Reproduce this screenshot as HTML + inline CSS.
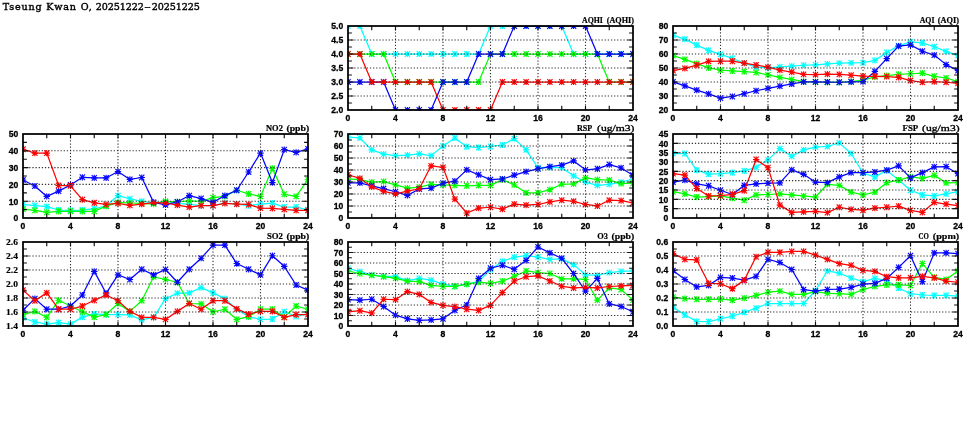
<!DOCTYPE html>
<html><head><meta charset="utf-8"><title>Tseung Kwan O</title><style>
html,body{margin:0;padding:0;background:#fff;}
body{width:975px;height:447px;overflow:hidden;}
svg{display:block;will-change:transform;}
text{fill:#000;}
.ttl{font-family:"DejaVu Serif","Liberation Serif",serif;font-size:9.6px;stroke:#000;stroke-width:0.4px;}
.pt{font-family:"Liberation Serif",serif;font-weight:bold;font-size:8.5px;stroke:#000;stroke-width:0.2px;}
.yl{font-family:"Liberation Sans",sans-serif;font-weight:bold;font-size:8.6px;text-anchor:end;stroke:#000;stroke-width:0.3px;}
.ys{font-family:"Liberation Serif",serif;font-weight:bold;font-size:8.1px;stroke-width:0.15px;}
.xl{font-family:"Liberation Sans",sans-serif;font-weight:bold;font-size:8.6px;text-anchor:middle;stroke:#000;stroke-width:0.3px;}
.grid{fill:none;stroke:#303030;stroke-width:1.1;stroke-dasharray:1.25 1.88;}
.tick{fill:none;stroke:#111;stroke-width:1.15;}
.frame{fill:none;stroke:#000;stroke-width:1.75;}
.lt{font-weight:normal;stroke:#000;stroke-width:0.3px;}
.mk{fill:none;stroke-width:1.12;}
.ln{fill:none;stroke-width:1.25;stroke-linejoin:round;}
</style></head><body>
<svg width="975" height="447" viewBox="0 0 975 447">
<defs>
<clipPath id="cp0"><rect x="347.70" y="25.70" width="285.60" height="84.60"/></clipPath>
<clipPath id="cp1"><rect x="672.70" y="25.70" width="285.60" height="84.60"/></clipPath>
<clipPath id="cp2"><rect x="22.70" y="133.70" width="285.60" height="84.60"/></clipPath>
<clipPath id="cp3"><rect x="347.70" y="133.70" width="285.60" height="84.60"/></clipPath>
<clipPath id="cp4"><rect x="672.70" y="133.70" width="285.60" height="84.60"/></clipPath>
<clipPath id="cp5"><rect x="22.70" y="241.70" width="285.60" height="84.60"/></clipPath>
<clipPath id="cp6"><rect x="347.70" y="241.70" width="285.60" height="84.60"/></clipPath>
<clipPath id="cp7"><rect x="672.70" y="241.70" width="285.60" height="84.60"/></clipPath>
</defs>
<rect width="975" height="447" fill="#fff"/>
<text class="ttl" x="2.7" y="10.0"><tspan letter-spacing="0.82">Tseung Kwan O, </tspan><tspan x="95.8" letter-spacing="-0.1">20251222</tspan><tspan x="144.3" textLength="6.6" lengthAdjust="spacingAndGlyphs">-</tspan><tspan x="151.8" letter-spacing="-0.1">20251225</tspan></text>
<g class="panel">
<g clip-path="url(#cp0)">
<g stroke="#00ffff"><polyline class="ln" points="348.00,26.00 359.88,26.00 371.75,54.00 383.62,54.00 395.50,54.00 407.38,54.00 419.25,54.00 431.12,54.00 443.00,54.00 454.88,54.00 466.75,54.00 478.62,54.00 490.50,26.00 502.38,26.00 514.25,26.00 526.12,26.00 538.00,26.00 549.88,26.00 561.75,26.00 573.62,54.00 585.50,54.00 597.38,54.00 609.25,54.00 621.12,54.00 633.00,54.00"/>
<path class="mk" d="M344.80 26.00h6.4m-3.2 -3.1v6.2m-2.6 -5.9l5.2 5.6m-5.2 0l5.2 -5.6M356.68 26.00h6.4m-3.2 -3.1v6.2m-2.6 -5.9l5.2 5.6m-5.2 0l5.2 -5.6M368.55 54.00h6.4m-3.2 -3.1v6.2m-2.6 -5.9l5.2 5.6m-5.2 0l5.2 -5.6M380.43 54.00h6.4m-3.2 -3.1v6.2m-2.6 -5.9l5.2 5.6m-5.2 0l5.2 -5.6M392.30 54.00h6.4m-3.2 -3.1v6.2m-2.6 -5.9l5.2 5.6m-5.2 0l5.2 -5.6M404.18 54.00h6.4m-3.2 -3.1v6.2m-2.6 -5.9l5.2 5.6m-5.2 0l5.2 -5.6M416.05 54.00h6.4m-3.2 -3.1v6.2m-2.6 -5.9l5.2 5.6m-5.2 0l5.2 -5.6M427.93 54.00h6.4m-3.2 -3.1v6.2m-2.6 -5.9l5.2 5.6m-5.2 0l5.2 -5.6M439.80 54.00h6.4m-3.2 -3.1v6.2m-2.6 -5.9l5.2 5.6m-5.2 0l5.2 -5.6M451.68 54.00h6.4m-3.2 -3.1v6.2m-2.6 -5.9l5.2 5.6m-5.2 0l5.2 -5.6M463.55 54.00h6.4m-3.2 -3.1v6.2m-2.6 -5.9l5.2 5.6m-5.2 0l5.2 -5.6M475.43 54.00h6.4m-3.2 -3.1v6.2m-2.6 -5.9l5.2 5.6m-5.2 0l5.2 -5.6M487.30 26.00h6.4m-3.2 -3.1v6.2m-2.6 -5.9l5.2 5.6m-5.2 0l5.2 -5.6M499.18 26.00h6.4m-3.2 -3.1v6.2m-2.6 -5.9l5.2 5.6m-5.2 0l5.2 -5.6M511.05 26.00h6.4m-3.2 -3.1v6.2m-2.6 -5.9l5.2 5.6m-5.2 0l5.2 -5.6M522.92 26.00h6.4m-3.2 -3.1v6.2m-2.6 -5.9l5.2 5.6m-5.2 0l5.2 -5.6M534.80 26.00h6.4m-3.2 -3.1v6.2m-2.6 -5.9l5.2 5.6m-5.2 0l5.2 -5.6M546.67 26.00h6.4m-3.2 -3.1v6.2m-2.6 -5.9l5.2 5.6m-5.2 0l5.2 -5.6M558.55 26.00h6.4m-3.2 -3.1v6.2m-2.6 -5.9l5.2 5.6m-5.2 0l5.2 -5.6M570.42 54.00h6.4m-3.2 -3.1v6.2m-2.6 -5.9l5.2 5.6m-5.2 0l5.2 -5.6M582.30 54.00h6.4m-3.2 -3.1v6.2m-2.6 -5.9l5.2 5.6m-5.2 0l5.2 -5.6M594.17 54.00h6.4m-3.2 -3.1v6.2m-2.6 -5.9l5.2 5.6m-5.2 0l5.2 -5.6M606.05 54.00h6.4m-3.2 -3.1v6.2m-2.6 -5.9l5.2 5.6m-5.2 0l5.2 -5.6M617.92 54.00h6.4m-3.2 -3.1v6.2m-2.6 -5.9l5.2 5.6m-5.2 0l5.2 -5.6M629.80 54.00h6.4m-3.2 -3.1v6.2m-2.6 -5.9l5.2 5.6m-5.2 0l5.2 -5.6"/>
</g>
<g stroke="#00ff00"><polyline class="ln" points="348.00,54.00 359.88,54.00 371.75,54.00 383.62,54.00 395.50,82.00 407.38,82.00 419.25,82.00 431.12,82.00 443.00,82.00 454.88,82.00 466.75,82.00 478.62,82.00 490.50,54.00 502.38,54.00 514.25,54.00 526.12,54.00 538.00,54.00 549.88,54.00 561.75,54.00 573.62,54.00 585.50,54.00 597.38,54.00 609.25,82.00 621.12,82.00 633.00,82.00"/>
<path class="mk" d="M344.80 54.00h6.4m-3.2 -3.1v6.2m-2.6 -5.9l5.2 5.6m-5.2 0l5.2 -5.6M356.68 54.00h6.4m-3.2 -3.1v6.2m-2.6 -5.9l5.2 5.6m-5.2 0l5.2 -5.6M368.55 54.00h6.4m-3.2 -3.1v6.2m-2.6 -5.9l5.2 5.6m-5.2 0l5.2 -5.6M380.43 54.00h6.4m-3.2 -3.1v6.2m-2.6 -5.9l5.2 5.6m-5.2 0l5.2 -5.6M392.30 82.00h6.4m-3.2 -3.1v6.2m-2.6 -5.9l5.2 5.6m-5.2 0l5.2 -5.6M404.18 82.00h6.4m-3.2 -3.1v6.2m-2.6 -5.9l5.2 5.6m-5.2 0l5.2 -5.6M416.05 82.00h6.4m-3.2 -3.1v6.2m-2.6 -5.9l5.2 5.6m-5.2 0l5.2 -5.6M427.93 82.00h6.4m-3.2 -3.1v6.2m-2.6 -5.9l5.2 5.6m-5.2 0l5.2 -5.6M439.80 82.00h6.4m-3.2 -3.1v6.2m-2.6 -5.9l5.2 5.6m-5.2 0l5.2 -5.6M451.68 82.00h6.4m-3.2 -3.1v6.2m-2.6 -5.9l5.2 5.6m-5.2 0l5.2 -5.6M463.55 82.00h6.4m-3.2 -3.1v6.2m-2.6 -5.9l5.2 5.6m-5.2 0l5.2 -5.6M475.43 82.00h6.4m-3.2 -3.1v6.2m-2.6 -5.9l5.2 5.6m-5.2 0l5.2 -5.6M487.30 54.00h6.4m-3.2 -3.1v6.2m-2.6 -5.9l5.2 5.6m-5.2 0l5.2 -5.6M499.18 54.00h6.4m-3.2 -3.1v6.2m-2.6 -5.9l5.2 5.6m-5.2 0l5.2 -5.6M511.05 54.00h6.4m-3.2 -3.1v6.2m-2.6 -5.9l5.2 5.6m-5.2 0l5.2 -5.6M522.92 54.00h6.4m-3.2 -3.1v6.2m-2.6 -5.9l5.2 5.6m-5.2 0l5.2 -5.6M534.80 54.00h6.4m-3.2 -3.1v6.2m-2.6 -5.9l5.2 5.6m-5.2 0l5.2 -5.6M546.67 54.00h6.4m-3.2 -3.1v6.2m-2.6 -5.9l5.2 5.6m-5.2 0l5.2 -5.6M558.55 54.00h6.4m-3.2 -3.1v6.2m-2.6 -5.9l5.2 5.6m-5.2 0l5.2 -5.6M570.42 54.00h6.4m-3.2 -3.1v6.2m-2.6 -5.9l5.2 5.6m-5.2 0l5.2 -5.6M582.30 54.00h6.4m-3.2 -3.1v6.2m-2.6 -5.9l5.2 5.6m-5.2 0l5.2 -5.6M594.17 54.00h6.4m-3.2 -3.1v6.2m-2.6 -5.9l5.2 5.6m-5.2 0l5.2 -5.6M606.05 82.00h6.4m-3.2 -3.1v6.2m-2.6 -5.9l5.2 5.6m-5.2 0l5.2 -5.6M617.92 82.00h6.4m-3.2 -3.1v6.2m-2.6 -5.9l5.2 5.6m-5.2 0l5.2 -5.6M629.80 82.00h6.4m-3.2 -3.1v6.2m-2.6 -5.9l5.2 5.6m-5.2 0l5.2 -5.6"/>
</g>
<g stroke="#0404ff"><polyline class="ln" points="348.00,82.00 359.88,82.00 371.75,82.00 383.62,82.00 395.50,110.00 407.38,110.00 419.25,110.00 431.12,110.00 443.00,82.00 454.88,82.00 466.75,82.00 478.62,54.00 490.50,54.00 502.38,54.00 514.25,26.00 526.12,26.00 538.00,26.00 549.88,26.00 561.75,26.00 573.62,26.00 585.50,26.00 597.38,54.00 609.25,54.00 621.12,54.00 633.00,54.00"/>
<path class="mk" d="M344.80 82.00h6.4m-3.2 -3.1v6.2m-2.6 -5.9l5.2 5.6m-5.2 0l5.2 -5.6M356.68 82.00h6.4m-3.2 -3.1v6.2m-2.6 -5.9l5.2 5.6m-5.2 0l5.2 -5.6M368.55 82.00h6.4m-3.2 -3.1v6.2m-2.6 -5.9l5.2 5.6m-5.2 0l5.2 -5.6M380.43 82.00h6.4m-3.2 -3.1v6.2m-2.6 -5.9l5.2 5.6m-5.2 0l5.2 -5.6M392.30 110.00h6.4m-3.2 -3.1v6.2m-2.6 -5.9l5.2 5.6m-5.2 0l5.2 -5.6M404.18 110.00h6.4m-3.2 -3.1v6.2m-2.6 -5.9l5.2 5.6m-5.2 0l5.2 -5.6M416.05 110.00h6.4m-3.2 -3.1v6.2m-2.6 -5.9l5.2 5.6m-5.2 0l5.2 -5.6M427.93 110.00h6.4m-3.2 -3.1v6.2m-2.6 -5.9l5.2 5.6m-5.2 0l5.2 -5.6M439.80 82.00h6.4m-3.2 -3.1v6.2m-2.6 -5.9l5.2 5.6m-5.2 0l5.2 -5.6M451.68 82.00h6.4m-3.2 -3.1v6.2m-2.6 -5.9l5.2 5.6m-5.2 0l5.2 -5.6M463.55 82.00h6.4m-3.2 -3.1v6.2m-2.6 -5.9l5.2 5.6m-5.2 0l5.2 -5.6M475.43 54.00h6.4m-3.2 -3.1v6.2m-2.6 -5.9l5.2 5.6m-5.2 0l5.2 -5.6M487.30 54.00h6.4m-3.2 -3.1v6.2m-2.6 -5.9l5.2 5.6m-5.2 0l5.2 -5.6M499.18 54.00h6.4m-3.2 -3.1v6.2m-2.6 -5.9l5.2 5.6m-5.2 0l5.2 -5.6M511.05 26.00h6.4m-3.2 -3.1v6.2m-2.6 -5.9l5.2 5.6m-5.2 0l5.2 -5.6M522.92 26.00h6.4m-3.2 -3.1v6.2m-2.6 -5.9l5.2 5.6m-5.2 0l5.2 -5.6M534.80 26.00h6.4m-3.2 -3.1v6.2m-2.6 -5.9l5.2 5.6m-5.2 0l5.2 -5.6M546.67 26.00h6.4m-3.2 -3.1v6.2m-2.6 -5.9l5.2 5.6m-5.2 0l5.2 -5.6M558.55 26.00h6.4m-3.2 -3.1v6.2m-2.6 -5.9l5.2 5.6m-5.2 0l5.2 -5.6M570.42 26.00h6.4m-3.2 -3.1v6.2m-2.6 -5.9l5.2 5.6m-5.2 0l5.2 -5.6M582.30 26.00h6.4m-3.2 -3.1v6.2m-2.6 -5.9l5.2 5.6m-5.2 0l5.2 -5.6M594.17 54.00h6.4m-3.2 -3.1v6.2m-2.6 -5.9l5.2 5.6m-5.2 0l5.2 -5.6M606.05 54.00h6.4m-3.2 -3.1v6.2m-2.6 -5.9l5.2 5.6m-5.2 0l5.2 -5.6M617.92 54.00h6.4m-3.2 -3.1v6.2m-2.6 -5.9l5.2 5.6m-5.2 0l5.2 -5.6M629.80 54.00h6.4m-3.2 -3.1v6.2m-2.6 -5.9l5.2 5.6m-5.2 0l5.2 -5.6"/>
</g>
<g stroke="#ff0000"><polyline class="ln" points="348.00,54.00 359.88,54.00 371.75,82.00 383.62,82.00 395.50,82.00 407.38,82.00 419.25,82.00 431.12,82.00 443.00,110.00 454.88,110.00 466.75,110.00 478.62,110.00 490.50,110.00 502.38,82.00 514.25,82.00 526.12,82.00 538.00,82.00 549.88,82.00 561.75,82.00 573.62,82.00 585.50,82.00 597.38,82.00 609.25,82.00 621.12,82.00 633.00,82.00"/>
<path class="mk" d="M344.80 54.00h6.4m-3.2 -3.1v6.2m-2.6 -5.9l5.2 5.6m-5.2 0l5.2 -5.6M356.68 54.00h6.4m-3.2 -3.1v6.2m-2.6 -5.9l5.2 5.6m-5.2 0l5.2 -5.6M368.55 82.00h6.4m-3.2 -3.1v6.2m-2.6 -5.9l5.2 5.6m-5.2 0l5.2 -5.6M380.43 82.00h6.4m-3.2 -3.1v6.2m-2.6 -5.9l5.2 5.6m-5.2 0l5.2 -5.6M392.30 82.00h6.4m-3.2 -3.1v6.2m-2.6 -5.9l5.2 5.6m-5.2 0l5.2 -5.6M404.18 82.00h6.4m-3.2 -3.1v6.2m-2.6 -5.9l5.2 5.6m-5.2 0l5.2 -5.6M416.05 82.00h6.4m-3.2 -3.1v6.2m-2.6 -5.9l5.2 5.6m-5.2 0l5.2 -5.6M427.93 82.00h6.4m-3.2 -3.1v6.2m-2.6 -5.9l5.2 5.6m-5.2 0l5.2 -5.6M439.80 110.00h6.4m-3.2 -3.1v6.2m-2.6 -5.9l5.2 5.6m-5.2 0l5.2 -5.6M451.68 110.00h6.4m-3.2 -3.1v6.2m-2.6 -5.9l5.2 5.6m-5.2 0l5.2 -5.6M463.55 110.00h6.4m-3.2 -3.1v6.2m-2.6 -5.9l5.2 5.6m-5.2 0l5.2 -5.6M475.43 110.00h6.4m-3.2 -3.1v6.2m-2.6 -5.9l5.2 5.6m-5.2 0l5.2 -5.6M487.30 110.00h6.4m-3.2 -3.1v6.2m-2.6 -5.9l5.2 5.6m-5.2 0l5.2 -5.6M499.18 82.00h6.4m-3.2 -3.1v6.2m-2.6 -5.9l5.2 5.6m-5.2 0l5.2 -5.6M511.05 82.00h6.4m-3.2 -3.1v6.2m-2.6 -5.9l5.2 5.6m-5.2 0l5.2 -5.6M522.92 82.00h6.4m-3.2 -3.1v6.2m-2.6 -5.9l5.2 5.6m-5.2 0l5.2 -5.6M534.80 82.00h6.4m-3.2 -3.1v6.2m-2.6 -5.9l5.2 5.6m-5.2 0l5.2 -5.6M546.67 82.00h6.4m-3.2 -3.1v6.2m-2.6 -5.9l5.2 5.6m-5.2 0l5.2 -5.6M558.55 82.00h6.4m-3.2 -3.1v6.2m-2.6 -5.9l5.2 5.6m-5.2 0l5.2 -5.6M570.42 82.00h6.4m-3.2 -3.1v6.2m-2.6 -5.9l5.2 5.6m-5.2 0l5.2 -5.6M582.30 82.00h6.4m-3.2 -3.1v6.2m-2.6 -5.9l5.2 5.6m-5.2 0l5.2 -5.6M594.17 82.00h6.4m-3.2 -3.1v6.2m-2.6 -5.9l5.2 5.6m-5.2 0l5.2 -5.6M606.05 82.00h6.4m-3.2 -3.1v6.2m-2.6 -5.9l5.2 5.6m-5.2 0l5.2 -5.6M617.92 82.00h6.4m-3.2 -3.1v6.2m-2.6 -5.9l5.2 5.6m-5.2 0l5.2 -5.6M629.80 82.00h6.4m-3.2 -3.1v6.2m-2.6 -5.9l5.2 5.6m-5.2 0l5.2 -5.6"/>
</g>
</g>
<path class="grid" d="M348.00 96.00H633.00M348.00 82.00H633.00M348.00 68.00H633.00M348.00 54.00H633.00M348.00 40.00H633.00M395.50 26.00V110.00M443.00 26.00V110.00M490.50 26.00V110.00M538.00 26.00V110.00M585.50 26.00V110.00"/>
<path class="tick" d="M371.75 110.00v-4.3M371.75 26.00v4.3M395.50 110.00v-4.3M395.50 26.00v4.3M419.25 110.00v-4.3M419.25 26.00v4.3M443.00 110.00v-4.3M443.00 26.00v4.3M466.75 110.00v-4.3M466.75 26.00v4.3M490.50 110.00v-4.3M490.50 26.00v4.3M514.25 110.00v-4.3M514.25 26.00v4.3M538.00 110.00v-4.3M538.00 26.00v4.3M561.75 110.00v-4.3M561.75 26.00v4.3M585.50 110.00v-4.3M585.50 26.00v4.3M609.25 110.00v-4.3M609.25 26.00v4.3M348.00 103.00h3.9M633.00 103.00h-3.9M348.00 96.00h5.5M633.00 96.00h-5.5M348.00 89.00h3.9M633.00 89.00h-3.9M348.00 82.00h5.5M633.00 82.00h-5.5M348.00 75.00h3.9M633.00 75.00h-3.9M348.00 68.00h5.5M633.00 68.00h-5.5M348.00 61.00h3.9M633.00 61.00h-3.9M348.00 54.00h5.5M633.00 54.00h-5.5M348.00 47.00h3.9M633.00 47.00h-3.9M348.00 40.00h5.5M633.00 40.00h-5.5M348.00 33.00h3.9M633.00 33.00h-3.9"/>
<rect class="frame" x="348.00" y="26.00" width="285.00" height="84.00"/>
<text class="yl" x="343.30" y="113.30">2.0</text>
<text class="yl" x="343.30" y="99.30">2.5</text>
<text class="yl" x="343.30" y="85.30">3.0</text>
<text class="yl" x="343.30" y="71.30">3.5</text>
<text class="yl" x="343.30" y="57.30">4.0</text>
<text class="yl" x="343.30" y="43.30">4.5</text>
<text class="yl" x="343.30" y="29.30">5.0</text>
<text class="xl" x="348.00" y="120.50">0</text>
<text class="xl" x="395.50" y="120.50">4</text>
<text class="xl" x="443.00" y="120.50">8</text>
<text class="xl" x="490.50" y="120.50">12</text>
<text class="xl" x="538.00" y="120.50">16</text>
<text class="xl" x="585.50" y="120.50">20</text>
<text class="xl" x="633.00" y="120.50">24</text>
<text class="pt" y="22.75"><tspan x="582.00" textLength="20.90" lengthAdjust="spacingAndGlyphs">AQHI</tspan> <tspan x="606.70" textLength="27.30" lengthAdjust="spacingAndGlyphs">(AQHI)</tspan></text>
</g>
<g class="panel">
<g clip-path="url(#cp1)">
<g stroke="#00ffff"><polyline class="ln" points="673.00,35.30 684.88,39.12 696.75,45.07 708.62,50.38 720.50,54.42 732.38,58.46 744.25,63.13 756.12,67.17 768.00,67.80 779.88,66.95 791.75,66.10 803.62,65.25 815.50,64.83 827.38,63.98 839.25,63.13 851.12,62.92 863.00,62.71 874.88,60.37 886.75,52.51 898.62,45.92 910.50,41.88 922.38,42.95 934.25,46.77 946.12,51.44 958.00,55.69"/>
<path class="mk" d="M669.80 35.30h6.4m-3.2 -3.1v6.2m-2.6 -5.9l5.2 5.6m-5.2 0l5.2 -5.6M681.67 39.12h6.4m-3.2 -3.1v6.2m-2.6 -5.9l5.2 5.6m-5.2 0l5.2 -5.6M693.55 45.07h6.4m-3.2 -3.1v6.2m-2.6 -5.9l5.2 5.6m-5.2 0l5.2 -5.6M705.42 50.38h6.4m-3.2 -3.1v6.2m-2.6 -5.9l5.2 5.6m-5.2 0l5.2 -5.6M717.30 54.42h6.4m-3.2 -3.1v6.2m-2.6 -5.9l5.2 5.6m-5.2 0l5.2 -5.6M729.17 58.46h6.4m-3.2 -3.1v6.2m-2.6 -5.9l5.2 5.6m-5.2 0l5.2 -5.6M741.05 63.13h6.4m-3.2 -3.1v6.2m-2.6 -5.9l5.2 5.6m-5.2 0l5.2 -5.6M752.92 67.17h6.4m-3.2 -3.1v6.2m-2.6 -5.9l5.2 5.6m-5.2 0l5.2 -5.6M764.80 67.80h6.4m-3.2 -3.1v6.2m-2.6 -5.9l5.2 5.6m-5.2 0l5.2 -5.6M776.67 66.95h6.4m-3.2 -3.1v6.2m-2.6 -5.9l5.2 5.6m-5.2 0l5.2 -5.6M788.55 66.10h6.4m-3.2 -3.1v6.2m-2.6 -5.9l5.2 5.6m-5.2 0l5.2 -5.6M800.42 65.25h6.4m-3.2 -3.1v6.2m-2.6 -5.9l5.2 5.6m-5.2 0l5.2 -5.6M812.30 64.83h6.4m-3.2 -3.1v6.2m-2.6 -5.9l5.2 5.6m-5.2 0l5.2 -5.6M824.17 63.98h6.4m-3.2 -3.1v6.2m-2.6 -5.9l5.2 5.6m-5.2 0l5.2 -5.6M836.05 63.13h6.4m-3.2 -3.1v6.2m-2.6 -5.9l5.2 5.6m-5.2 0l5.2 -5.6M847.92 62.92h6.4m-3.2 -3.1v6.2m-2.6 -5.9l5.2 5.6m-5.2 0l5.2 -5.6M859.80 62.71h6.4m-3.2 -3.1v6.2m-2.6 -5.9l5.2 5.6m-5.2 0l5.2 -5.6M871.67 60.37h6.4m-3.2 -3.1v6.2m-2.6 -5.9l5.2 5.6m-5.2 0l5.2 -5.6M883.55 52.51h6.4m-3.2 -3.1v6.2m-2.6 -5.9l5.2 5.6m-5.2 0l5.2 -5.6M895.42 45.92h6.4m-3.2 -3.1v6.2m-2.6 -5.9l5.2 5.6m-5.2 0l5.2 -5.6M907.30 41.88h6.4m-3.2 -3.1v6.2m-2.6 -5.9l5.2 5.6m-5.2 0l5.2 -5.6M919.17 42.95h6.4m-3.2 -3.1v6.2m-2.6 -5.9l5.2 5.6m-5.2 0l5.2 -5.6M931.05 46.77h6.4m-3.2 -3.1v6.2m-2.6 -5.9l5.2 5.6m-5.2 0l5.2 -5.6M942.92 51.44h6.4m-3.2 -3.1v6.2m-2.6 -5.9l5.2 5.6m-5.2 0l5.2 -5.6M954.80 55.69h6.4m-3.2 -3.1v6.2m-2.6 -5.9l5.2 5.6m-5.2 0l5.2 -5.6"/>
</g>
<g stroke="#00ff00"><polyline class="ln" points="673.00,55.69 684.88,59.31 696.75,63.56 708.62,67.80 720.50,70.14 732.38,70.99 744.25,71.63 756.12,72.48 768.00,74.82 779.88,77.37 791.75,79.49 803.62,81.61 815.50,82.04 827.38,82.25 839.25,82.25 851.12,81.61 863.00,80.13 874.88,76.94 886.75,75.67 898.62,74.39 910.50,73.75 922.38,73.12 934.25,76.30 946.12,78.00 958.00,81.61"/>
<path class="mk" d="M669.80 55.69h6.4m-3.2 -3.1v6.2m-2.6 -5.9l5.2 5.6m-5.2 0l5.2 -5.6M681.67 59.31h6.4m-3.2 -3.1v6.2m-2.6 -5.9l5.2 5.6m-5.2 0l5.2 -5.6M693.55 63.56h6.4m-3.2 -3.1v6.2m-2.6 -5.9l5.2 5.6m-5.2 0l5.2 -5.6M705.42 67.80h6.4m-3.2 -3.1v6.2m-2.6 -5.9l5.2 5.6m-5.2 0l5.2 -5.6M717.30 70.14h6.4m-3.2 -3.1v6.2m-2.6 -5.9l5.2 5.6m-5.2 0l5.2 -5.6M729.17 70.99h6.4m-3.2 -3.1v6.2m-2.6 -5.9l5.2 5.6m-5.2 0l5.2 -5.6M741.05 71.63h6.4m-3.2 -3.1v6.2m-2.6 -5.9l5.2 5.6m-5.2 0l5.2 -5.6M752.92 72.48h6.4m-3.2 -3.1v6.2m-2.6 -5.9l5.2 5.6m-5.2 0l5.2 -5.6M764.80 74.82h6.4m-3.2 -3.1v6.2m-2.6 -5.9l5.2 5.6m-5.2 0l5.2 -5.6M776.67 77.37h6.4m-3.2 -3.1v6.2m-2.6 -5.9l5.2 5.6m-5.2 0l5.2 -5.6M788.55 79.49h6.4m-3.2 -3.1v6.2m-2.6 -5.9l5.2 5.6m-5.2 0l5.2 -5.6M800.42 81.61h6.4m-3.2 -3.1v6.2m-2.6 -5.9l5.2 5.6m-5.2 0l5.2 -5.6M812.30 82.04h6.4m-3.2 -3.1v6.2m-2.6 -5.9l5.2 5.6m-5.2 0l5.2 -5.6M824.17 82.25h6.4m-3.2 -3.1v6.2m-2.6 -5.9l5.2 5.6m-5.2 0l5.2 -5.6M836.05 82.25h6.4m-3.2 -3.1v6.2m-2.6 -5.9l5.2 5.6m-5.2 0l5.2 -5.6M847.92 81.61h6.4m-3.2 -3.1v6.2m-2.6 -5.9l5.2 5.6m-5.2 0l5.2 -5.6M859.80 80.13h6.4m-3.2 -3.1v6.2m-2.6 -5.9l5.2 5.6m-5.2 0l5.2 -5.6M871.67 76.94h6.4m-3.2 -3.1v6.2m-2.6 -5.9l5.2 5.6m-5.2 0l5.2 -5.6M883.55 75.67h6.4m-3.2 -3.1v6.2m-2.6 -5.9l5.2 5.6m-5.2 0l5.2 -5.6M895.42 74.39h6.4m-3.2 -3.1v6.2m-2.6 -5.9l5.2 5.6m-5.2 0l5.2 -5.6M907.30 73.75h6.4m-3.2 -3.1v6.2m-2.6 -5.9l5.2 5.6m-5.2 0l5.2 -5.6M919.17 73.12h6.4m-3.2 -3.1v6.2m-2.6 -5.9l5.2 5.6m-5.2 0l5.2 -5.6M931.05 76.30h6.4m-3.2 -3.1v6.2m-2.6 -5.9l5.2 5.6m-5.2 0l5.2 -5.6M942.92 78.00h6.4m-3.2 -3.1v6.2m-2.6 -5.9l5.2 5.6m-5.2 0l5.2 -5.6M954.80 81.61h6.4m-3.2 -3.1v6.2m-2.6 -5.9l5.2 5.6m-5.2 0l5.2 -5.6"/>
</g>
<g stroke="#0404ff"><polyline class="ln" points="673.00,81.83 684.88,85.86 696.75,90.11 708.62,93.94 720.50,98.19 732.38,96.49 744.25,93.73 756.12,90.75 768.00,88.41 779.88,86.08 791.75,83.95 803.62,81.83 815.50,81.83 827.38,82.04 839.25,82.25 851.12,81.83 863.00,81.61 874.88,71.42 886.75,58.67 898.62,46.13 910.50,44.86 922.38,51.23 934.25,55.06 946.12,64.62 958.00,70.57"/>
<path class="mk" d="M669.80 81.83h6.4m-3.2 -3.1v6.2m-2.6 -5.9l5.2 5.6m-5.2 0l5.2 -5.6M681.67 85.86h6.4m-3.2 -3.1v6.2m-2.6 -5.9l5.2 5.6m-5.2 0l5.2 -5.6M693.55 90.11h6.4m-3.2 -3.1v6.2m-2.6 -5.9l5.2 5.6m-5.2 0l5.2 -5.6M705.42 93.94h6.4m-3.2 -3.1v6.2m-2.6 -5.9l5.2 5.6m-5.2 0l5.2 -5.6M717.30 98.19h6.4m-3.2 -3.1v6.2m-2.6 -5.9l5.2 5.6m-5.2 0l5.2 -5.6M729.17 96.49h6.4m-3.2 -3.1v6.2m-2.6 -5.9l5.2 5.6m-5.2 0l5.2 -5.6M741.05 93.73h6.4m-3.2 -3.1v6.2m-2.6 -5.9l5.2 5.6m-5.2 0l5.2 -5.6M752.92 90.75h6.4m-3.2 -3.1v6.2m-2.6 -5.9l5.2 5.6m-5.2 0l5.2 -5.6M764.80 88.41h6.4m-3.2 -3.1v6.2m-2.6 -5.9l5.2 5.6m-5.2 0l5.2 -5.6M776.67 86.08h6.4m-3.2 -3.1v6.2m-2.6 -5.9l5.2 5.6m-5.2 0l5.2 -5.6M788.55 83.95h6.4m-3.2 -3.1v6.2m-2.6 -5.9l5.2 5.6m-5.2 0l5.2 -5.6M800.42 81.83h6.4m-3.2 -3.1v6.2m-2.6 -5.9l5.2 5.6m-5.2 0l5.2 -5.6M812.30 81.83h6.4m-3.2 -3.1v6.2m-2.6 -5.9l5.2 5.6m-5.2 0l5.2 -5.6M824.17 82.04h6.4m-3.2 -3.1v6.2m-2.6 -5.9l5.2 5.6m-5.2 0l5.2 -5.6M836.05 82.25h6.4m-3.2 -3.1v6.2m-2.6 -5.9l5.2 5.6m-5.2 0l5.2 -5.6M847.92 81.83h6.4m-3.2 -3.1v6.2m-2.6 -5.9l5.2 5.6m-5.2 0l5.2 -5.6M859.80 81.61h6.4m-3.2 -3.1v6.2m-2.6 -5.9l5.2 5.6m-5.2 0l5.2 -5.6M871.67 71.42h6.4m-3.2 -3.1v6.2m-2.6 -5.9l5.2 5.6m-5.2 0l5.2 -5.6M883.55 58.67h6.4m-3.2 -3.1v6.2m-2.6 -5.9l5.2 5.6m-5.2 0l5.2 -5.6M895.42 46.13h6.4m-3.2 -3.1v6.2m-2.6 -5.9l5.2 5.6m-5.2 0l5.2 -5.6M907.30 44.86h6.4m-3.2 -3.1v6.2m-2.6 -5.9l5.2 5.6m-5.2 0l5.2 -5.6M919.17 51.23h6.4m-3.2 -3.1v6.2m-2.6 -5.9l5.2 5.6m-5.2 0l5.2 -5.6M931.05 55.06h6.4m-3.2 -3.1v6.2m-2.6 -5.9l5.2 5.6m-5.2 0l5.2 -5.6M942.92 64.62h6.4m-3.2 -3.1v6.2m-2.6 -5.9l5.2 5.6m-5.2 0l5.2 -5.6M954.80 70.57h6.4m-3.2 -3.1v6.2m-2.6 -5.9l5.2 5.6m-5.2 0l5.2 -5.6"/>
</g>
<g stroke="#ff0000"><polyline class="ln" points="673.00,70.57 684.88,68.44 696.75,65.04 708.62,61.43 720.50,61.22 732.38,61.22 744.25,63.13 756.12,65.04 768.00,67.17 779.88,70.14 791.75,72.05 803.62,74.39 815.50,74.60 827.38,74.18 839.25,74.39 851.12,75.24 863.00,76.09 874.88,76.30 886.75,76.52 898.62,77.37 910.50,80.55 922.38,82.25 934.25,81.61 946.12,82.25 958.00,83.31"/>
<path class="mk" d="M669.80 70.57h6.4m-3.2 -3.1v6.2m-2.6 -5.9l5.2 5.6m-5.2 0l5.2 -5.6M681.67 68.44h6.4m-3.2 -3.1v6.2m-2.6 -5.9l5.2 5.6m-5.2 0l5.2 -5.6M693.55 65.04h6.4m-3.2 -3.1v6.2m-2.6 -5.9l5.2 5.6m-5.2 0l5.2 -5.6M705.42 61.43h6.4m-3.2 -3.1v6.2m-2.6 -5.9l5.2 5.6m-5.2 0l5.2 -5.6M717.30 61.22h6.4m-3.2 -3.1v6.2m-2.6 -5.9l5.2 5.6m-5.2 0l5.2 -5.6M729.17 61.22h6.4m-3.2 -3.1v6.2m-2.6 -5.9l5.2 5.6m-5.2 0l5.2 -5.6M741.05 63.13h6.4m-3.2 -3.1v6.2m-2.6 -5.9l5.2 5.6m-5.2 0l5.2 -5.6M752.92 65.04h6.4m-3.2 -3.1v6.2m-2.6 -5.9l5.2 5.6m-5.2 0l5.2 -5.6M764.80 67.17h6.4m-3.2 -3.1v6.2m-2.6 -5.9l5.2 5.6m-5.2 0l5.2 -5.6M776.67 70.14h6.4m-3.2 -3.1v6.2m-2.6 -5.9l5.2 5.6m-5.2 0l5.2 -5.6M788.55 72.05h6.4m-3.2 -3.1v6.2m-2.6 -5.9l5.2 5.6m-5.2 0l5.2 -5.6M800.42 74.39h6.4m-3.2 -3.1v6.2m-2.6 -5.9l5.2 5.6m-5.2 0l5.2 -5.6M812.30 74.60h6.4m-3.2 -3.1v6.2m-2.6 -5.9l5.2 5.6m-5.2 0l5.2 -5.6M824.17 74.18h6.4m-3.2 -3.1v6.2m-2.6 -5.9l5.2 5.6m-5.2 0l5.2 -5.6M836.05 74.39h6.4m-3.2 -3.1v6.2m-2.6 -5.9l5.2 5.6m-5.2 0l5.2 -5.6M847.92 75.24h6.4m-3.2 -3.1v6.2m-2.6 -5.9l5.2 5.6m-5.2 0l5.2 -5.6M859.80 76.09h6.4m-3.2 -3.1v6.2m-2.6 -5.9l5.2 5.6m-5.2 0l5.2 -5.6M871.67 76.30h6.4m-3.2 -3.1v6.2m-2.6 -5.9l5.2 5.6m-5.2 0l5.2 -5.6M883.55 76.52h6.4m-3.2 -3.1v6.2m-2.6 -5.9l5.2 5.6m-5.2 0l5.2 -5.6M895.42 77.37h6.4m-3.2 -3.1v6.2m-2.6 -5.9l5.2 5.6m-5.2 0l5.2 -5.6M907.30 80.55h6.4m-3.2 -3.1v6.2m-2.6 -5.9l5.2 5.6m-5.2 0l5.2 -5.6M919.17 82.25h6.4m-3.2 -3.1v6.2m-2.6 -5.9l5.2 5.6m-5.2 0l5.2 -5.6M931.05 81.61h6.4m-3.2 -3.1v6.2m-2.6 -5.9l5.2 5.6m-5.2 0l5.2 -5.6M942.92 82.25h6.4m-3.2 -3.1v6.2m-2.6 -5.9l5.2 5.6m-5.2 0l5.2 -5.6M954.80 83.31h6.4m-3.2 -3.1v6.2m-2.6 -5.9l5.2 5.6m-5.2 0l5.2 -5.6"/>
</g>
</g>
<path class="grid" d="M673.00 96.00H958.00M673.00 82.00H958.00M673.00 68.00H958.00M673.00 54.00H958.00M673.00 40.00H958.00M720.50 26.00V110.00M768.00 26.00V110.00M815.50 26.00V110.00M863.00 26.00V110.00M910.50 26.00V110.00"/>
<path class="tick" d="M696.75 110.00v-4.3M696.75 26.00v4.3M720.50 110.00v-4.3M720.50 26.00v4.3M744.25 110.00v-4.3M744.25 26.00v4.3M768.00 110.00v-4.3M768.00 26.00v4.3M791.75 110.00v-4.3M791.75 26.00v4.3M815.50 110.00v-4.3M815.50 26.00v4.3M839.25 110.00v-4.3M839.25 26.00v4.3M863.00 110.00v-4.3M863.00 26.00v4.3M886.75 110.00v-4.3M886.75 26.00v4.3M910.50 110.00v-4.3M910.50 26.00v4.3M934.25 110.00v-4.3M934.25 26.00v4.3M673.00 103.00h3.9M958.00 103.00h-3.9M673.00 96.00h5.5M958.00 96.00h-5.5M673.00 89.00h3.9M958.00 89.00h-3.9M673.00 82.00h5.5M958.00 82.00h-5.5M673.00 75.00h3.9M958.00 75.00h-3.9M673.00 68.00h5.5M958.00 68.00h-5.5M673.00 61.00h3.9M958.00 61.00h-3.9M673.00 54.00h5.5M958.00 54.00h-5.5M673.00 47.00h3.9M958.00 47.00h-3.9M673.00 40.00h5.5M958.00 40.00h-5.5M673.00 33.00h3.9M958.00 33.00h-3.9"/>
<rect class="frame" x="673.00" y="26.00" width="285.00" height="84.00"/>
<text class="yl" x="668.30" y="113.30">20</text>
<text class="yl" x="668.30" y="99.30">30</text>
<text class="yl" x="668.30" y="85.30">40</text>
<text class="yl" x="668.30" y="71.30">50</text>
<text class="yl" x="668.30" y="57.30">60</text>
<text class="yl" x="668.30" y="43.30">70</text>
<text class="yl" x="668.30" y="29.30">80</text>
<text class="xl" x="673.00" y="120.50">0</text>
<text class="xl" x="720.50" y="120.50">4</text>
<text class="xl" x="768.00" y="120.50">8</text>
<text class="xl" x="815.50" y="120.50">12</text>
<text class="xl" x="863.00" y="120.50">16</text>
<text class="xl" x="910.50" y="120.50">20</text>
<text class="xl" x="958.00" y="120.50">24</text>
<text class="pt" y="22.75"><tspan x="919.70" textLength="14.80" lengthAdjust="spacingAndGlyphs">AQI</tspan> <tspan x="937.70" textLength="21.30" lengthAdjust="spacingAndGlyphs">(AQI)</tspan></text>
</g>
<g class="panel">
<g clip-path="url(#cp2)">
<g stroke="#00ffff"><polyline class="ln" points="23.00,204.49 34.88,205.55 46.75,206.61 58.62,210.01 70.50,210.44 82.38,210.01 94.25,208.74 106.12,205.97 118.00,195.56 129.88,198.75 141.75,201.30 153.62,202.79 165.50,201.73 177.38,203.42 189.25,204.49 201.12,205.55 213.00,205.55 224.88,203.00 236.75,204.06 248.62,205.55 260.50,204.06 272.38,203.21 284.25,207.04 296.12,207.04 308.00,209.80"/>
<path class="mk" d="M19.80 204.49h6.4m-3.2 -3.1v6.2m-2.6 -5.9l5.2 5.6m-5.2 0l5.2 -5.6M31.68 205.55h6.4m-3.2 -3.1v6.2m-2.6 -5.9l5.2 5.6m-5.2 0l5.2 -5.6M43.55 206.61h6.4m-3.2 -3.1v6.2m-2.6 -5.9l5.2 5.6m-5.2 0l5.2 -5.6M55.42 210.01h6.4m-3.2 -3.1v6.2m-2.6 -5.9l5.2 5.6m-5.2 0l5.2 -5.6M67.30 210.44h6.4m-3.2 -3.1v6.2m-2.6 -5.9l5.2 5.6m-5.2 0l5.2 -5.6M79.17 210.01h6.4m-3.2 -3.1v6.2m-2.6 -5.9l5.2 5.6m-5.2 0l5.2 -5.6M91.05 208.74h6.4m-3.2 -3.1v6.2m-2.6 -5.9l5.2 5.6m-5.2 0l5.2 -5.6M102.92 205.97h6.4m-3.2 -3.1v6.2m-2.6 -5.9l5.2 5.6m-5.2 0l5.2 -5.6M114.80 195.56h6.4m-3.2 -3.1v6.2m-2.6 -5.9l5.2 5.6m-5.2 0l5.2 -5.6M126.67 198.75h6.4m-3.2 -3.1v6.2m-2.6 -5.9l5.2 5.6m-5.2 0l5.2 -5.6M138.55 201.30h6.4m-3.2 -3.1v6.2m-2.6 -5.9l5.2 5.6m-5.2 0l5.2 -5.6M150.43 202.79h6.4m-3.2 -3.1v6.2m-2.6 -5.9l5.2 5.6m-5.2 0l5.2 -5.6M162.30 201.73h6.4m-3.2 -3.1v6.2m-2.6 -5.9l5.2 5.6m-5.2 0l5.2 -5.6M174.18 203.42h6.4m-3.2 -3.1v6.2m-2.6 -5.9l5.2 5.6m-5.2 0l5.2 -5.6M186.05 204.49h6.4m-3.2 -3.1v6.2m-2.6 -5.9l5.2 5.6m-5.2 0l5.2 -5.6M197.93 205.55h6.4m-3.2 -3.1v6.2m-2.6 -5.9l5.2 5.6m-5.2 0l5.2 -5.6M209.80 205.55h6.4m-3.2 -3.1v6.2m-2.6 -5.9l5.2 5.6m-5.2 0l5.2 -5.6M221.68 203.00h6.4m-3.2 -3.1v6.2m-2.6 -5.9l5.2 5.6m-5.2 0l5.2 -5.6M233.55 204.06h6.4m-3.2 -3.1v6.2m-2.6 -5.9l5.2 5.6m-5.2 0l5.2 -5.6M245.43 205.55h6.4m-3.2 -3.1v6.2m-2.6 -5.9l5.2 5.6m-5.2 0l5.2 -5.6M257.30 204.06h6.4m-3.2 -3.1v6.2m-2.6 -5.9l5.2 5.6m-5.2 0l5.2 -5.6M269.18 203.21h6.4m-3.2 -3.1v6.2m-2.6 -5.9l5.2 5.6m-5.2 0l5.2 -5.6M281.05 207.04h6.4m-3.2 -3.1v6.2m-2.6 -5.9l5.2 5.6m-5.2 0l5.2 -5.6M292.93 207.04h6.4m-3.2 -3.1v6.2m-2.6 -5.9l5.2 5.6m-5.2 0l5.2 -5.6M304.80 209.80h6.4m-3.2 -3.1v6.2m-2.6 -5.9l5.2 5.6m-5.2 0l5.2 -5.6"/>
</g>
<g stroke="#00ff00"><polyline class="ln" points="23.00,209.16 34.88,210.44 46.75,212.35 58.62,211.29 70.50,211.29 82.38,211.29 94.25,211.29 106.12,206.19 118.00,202.36 129.88,203.00 141.75,203.42 153.62,204.06 165.50,201.30 177.38,201.94 189.25,200.88 201.12,201.30 213.00,197.69 224.88,196.41 236.75,190.25 248.62,193.86 260.50,196.41 272.38,168.37 284.25,194.29 296.12,196.41 308.00,179.63"/>
<path class="mk" d="M19.80 209.16h6.4m-3.2 -3.1v6.2m-2.6 -5.9l5.2 5.6m-5.2 0l5.2 -5.6M31.68 210.44h6.4m-3.2 -3.1v6.2m-2.6 -5.9l5.2 5.6m-5.2 0l5.2 -5.6M43.55 212.35h6.4m-3.2 -3.1v6.2m-2.6 -5.9l5.2 5.6m-5.2 0l5.2 -5.6M55.42 211.29h6.4m-3.2 -3.1v6.2m-2.6 -5.9l5.2 5.6m-5.2 0l5.2 -5.6M67.30 211.29h6.4m-3.2 -3.1v6.2m-2.6 -5.9l5.2 5.6m-5.2 0l5.2 -5.6M79.17 211.29h6.4m-3.2 -3.1v6.2m-2.6 -5.9l5.2 5.6m-5.2 0l5.2 -5.6M91.05 211.29h6.4m-3.2 -3.1v6.2m-2.6 -5.9l5.2 5.6m-5.2 0l5.2 -5.6M102.92 206.19h6.4m-3.2 -3.1v6.2m-2.6 -5.9l5.2 5.6m-5.2 0l5.2 -5.6M114.80 202.36h6.4m-3.2 -3.1v6.2m-2.6 -5.9l5.2 5.6m-5.2 0l5.2 -5.6M126.67 203.00h6.4m-3.2 -3.1v6.2m-2.6 -5.9l5.2 5.6m-5.2 0l5.2 -5.6M138.55 203.42h6.4m-3.2 -3.1v6.2m-2.6 -5.9l5.2 5.6m-5.2 0l5.2 -5.6M150.43 204.06h6.4m-3.2 -3.1v6.2m-2.6 -5.9l5.2 5.6m-5.2 0l5.2 -5.6M162.30 201.30h6.4m-3.2 -3.1v6.2m-2.6 -5.9l5.2 5.6m-5.2 0l5.2 -5.6M174.18 201.94h6.4m-3.2 -3.1v6.2m-2.6 -5.9l5.2 5.6m-5.2 0l5.2 -5.6M186.05 200.88h6.4m-3.2 -3.1v6.2m-2.6 -5.9l5.2 5.6m-5.2 0l5.2 -5.6M197.93 201.30h6.4m-3.2 -3.1v6.2m-2.6 -5.9l5.2 5.6m-5.2 0l5.2 -5.6M209.80 197.69h6.4m-3.2 -3.1v6.2m-2.6 -5.9l5.2 5.6m-5.2 0l5.2 -5.6M221.68 196.41h6.4m-3.2 -3.1v6.2m-2.6 -5.9l5.2 5.6m-5.2 0l5.2 -5.6M233.55 190.25h6.4m-3.2 -3.1v6.2m-2.6 -5.9l5.2 5.6m-5.2 0l5.2 -5.6M245.43 193.86h6.4m-3.2 -3.1v6.2m-2.6 -5.9l5.2 5.6m-5.2 0l5.2 -5.6M257.30 196.41h6.4m-3.2 -3.1v6.2m-2.6 -5.9l5.2 5.6m-5.2 0l5.2 -5.6M269.18 168.37h6.4m-3.2 -3.1v6.2m-2.6 -5.9l5.2 5.6m-5.2 0l5.2 -5.6M281.05 194.29h6.4m-3.2 -3.1v6.2m-2.6 -5.9l5.2 5.6m-5.2 0l5.2 -5.6M292.93 196.41h6.4m-3.2 -3.1v6.2m-2.6 -5.9l5.2 5.6m-5.2 0l5.2 -5.6M304.80 179.63h6.4m-3.2 -3.1v6.2m-2.6 -5.9l5.2 5.6m-5.2 0l5.2 -5.6"/>
</g>
<g stroke="#0404ff"><polyline class="ln" points="23.00,180.05 34.88,186.00 46.75,196.41 58.62,191.10 70.50,184.94 82.38,177.29 94.25,177.93 106.12,177.93 118.00,171.56 129.88,179.42 141.75,177.50 153.62,202.36 165.50,204.91 177.38,201.94 189.25,195.56 201.12,198.54 213.00,202.36 224.88,195.56 236.75,190.25 248.62,171.98 260.50,153.07 272.38,182.60 284.25,149.67 296.12,152.43 308.00,148.82"/>
<path class="mk" d="M19.80 180.05h6.4m-3.2 -3.1v6.2m-2.6 -5.9l5.2 5.6m-5.2 0l5.2 -5.6M31.68 186.00h6.4m-3.2 -3.1v6.2m-2.6 -5.9l5.2 5.6m-5.2 0l5.2 -5.6M43.55 196.41h6.4m-3.2 -3.1v6.2m-2.6 -5.9l5.2 5.6m-5.2 0l5.2 -5.6M55.42 191.10h6.4m-3.2 -3.1v6.2m-2.6 -5.9l5.2 5.6m-5.2 0l5.2 -5.6M67.30 184.94h6.4m-3.2 -3.1v6.2m-2.6 -5.9l5.2 5.6m-5.2 0l5.2 -5.6M79.17 177.29h6.4m-3.2 -3.1v6.2m-2.6 -5.9l5.2 5.6m-5.2 0l5.2 -5.6M91.05 177.93h6.4m-3.2 -3.1v6.2m-2.6 -5.9l5.2 5.6m-5.2 0l5.2 -5.6M102.92 177.93h6.4m-3.2 -3.1v6.2m-2.6 -5.9l5.2 5.6m-5.2 0l5.2 -5.6M114.80 171.56h6.4m-3.2 -3.1v6.2m-2.6 -5.9l5.2 5.6m-5.2 0l5.2 -5.6M126.67 179.42h6.4m-3.2 -3.1v6.2m-2.6 -5.9l5.2 5.6m-5.2 0l5.2 -5.6M138.55 177.50h6.4m-3.2 -3.1v6.2m-2.6 -5.9l5.2 5.6m-5.2 0l5.2 -5.6M150.43 202.36h6.4m-3.2 -3.1v6.2m-2.6 -5.9l5.2 5.6m-5.2 0l5.2 -5.6M162.30 204.91h6.4m-3.2 -3.1v6.2m-2.6 -5.9l5.2 5.6m-5.2 0l5.2 -5.6M174.18 201.94h6.4m-3.2 -3.1v6.2m-2.6 -5.9l5.2 5.6m-5.2 0l5.2 -5.6M186.05 195.56h6.4m-3.2 -3.1v6.2m-2.6 -5.9l5.2 5.6m-5.2 0l5.2 -5.6M197.93 198.54h6.4m-3.2 -3.1v6.2m-2.6 -5.9l5.2 5.6m-5.2 0l5.2 -5.6M209.80 202.36h6.4m-3.2 -3.1v6.2m-2.6 -5.9l5.2 5.6m-5.2 0l5.2 -5.6M221.68 195.56h6.4m-3.2 -3.1v6.2m-2.6 -5.9l5.2 5.6m-5.2 0l5.2 -5.6M233.55 190.25h6.4m-3.2 -3.1v6.2m-2.6 -5.9l5.2 5.6m-5.2 0l5.2 -5.6M245.43 171.98h6.4m-3.2 -3.1v6.2m-2.6 -5.9l5.2 5.6m-5.2 0l5.2 -5.6M257.30 153.07h6.4m-3.2 -3.1v6.2m-2.6 -5.9l5.2 5.6m-5.2 0l5.2 -5.6M269.18 182.60h6.4m-3.2 -3.1v6.2m-2.6 -5.9l5.2 5.6m-5.2 0l5.2 -5.6M281.05 149.67h6.4m-3.2 -3.1v6.2m-2.6 -5.9l5.2 5.6m-5.2 0l5.2 -5.6M292.93 152.43h6.4m-3.2 -3.1v6.2m-2.6 -5.9l5.2 5.6m-5.2 0l5.2 -5.6M304.80 148.82h6.4m-3.2 -3.1v6.2m-2.6 -5.9l5.2 5.6m-5.2 0l5.2 -5.6"/>
</g>
<g stroke="#ff0000"><polyline class="ln" points="23.00,149.25 34.88,153.07 46.75,153.07 58.62,185.37 70.50,185.79 82.38,199.60 94.25,202.79 106.12,204.49 118.00,203.42 129.88,205.34 141.75,204.06 153.62,202.58 165.50,203.00 177.38,205.12 189.25,207.04 201.12,205.55 213.00,205.55 224.88,203.42 236.75,204.06 248.62,204.49 260.50,208.10 272.38,208.31 284.25,209.37 296.12,210.44 308.00,210.44"/>
<path class="mk" d="M19.80 149.25h6.4m-3.2 -3.1v6.2m-2.6 -5.9l5.2 5.6m-5.2 0l5.2 -5.6M31.68 153.07h6.4m-3.2 -3.1v6.2m-2.6 -5.9l5.2 5.6m-5.2 0l5.2 -5.6M43.55 153.07h6.4m-3.2 -3.1v6.2m-2.6 -5.9l5.2 5.6m-5.2 0l5.2 -5.6M55.42 185.37h6.4m-3.2 -3.1v6.2m-2.6 -5.9l5.2 5.6m-5.2 0l5.2 -5.6M67.30 185.79h6.4m-3.2 -3.1v6.2m-2.6 -5.9l5.2 5.6m-5.2 0l5.2 -5.6M79.17 199.60h6.4m-3.2 -3.1v6.2m-2.6 -5.9l5.2 5.6m-5.2 0l5.2 -5.6M91.05 202.79h6.4m-3.2 -3.1v6.2m-2.6 -5.9l5.2 5.6m-5.2 0l5.2 -5.6M102.92 204.49h6.4m-3.2 -3.1v6.2m-2.6 -5.9l5.2 5.6m-5.2 0l5.2 -5.6M114.80 203.42h6.4m-3.2 -3.1v6.2m-2.6 -5.9l5.2 5.6m-5.2 0l5.2 -5.6M126.67 205.34h6.4m-3.2 -3.1v6.2m-2.6 -5.9l5.2 5.6m-5.2 0l5.2 -5.6M138.55 204.06h6.4m-3.2 -3.1v6.2m-2.6 -5.9l5.2 5.6m-5.2 0l5.2 -5.6M150.43 202.58h6.4m-3.2 -3.1v6.2m-2.6 -5.9l5.2 5.6m-5.2 0l5.2 -5.6M162.30 203.00h6.4m-3.2 -3.1v6.2m-2.6 -5.9l5.2 5.6m-5.2 0l5.2 -5.6M174.18 205.12h6.4m-3.2 -3.1v6.2m-2.6 -5.9l5.2 5.6m-5.2 0l5.2 -5.6M186.05 207.04h6.4m-3.2 -3.1v6.2m-2.6 -5.9l5.2 5.6m-5.2 0l5.2 -5.6M197.93 205.55h6.4m-3.2 -3.1v6.2m-2.6 -5.9l5.2 5.6m-5.2 0l5.2 -5.6M209.80 205.55h6.4m-3.2 -3.1v6.2m-2.6 -5.9l5.2 5.6m-5.2 0l5.2 -5.6M221.68 203.42h6.4m-3.2 -3.1v6.2m-2.6 -5.9l5.2 5.6m-5.2 0l5.2 -5.6M233.55 204.06h6.4m-3.2 -3.1v6.2m-2.6 -5.9l5.2 5.6m-5.2 0l5.2 -5.6M245.43 204.49h6.4m-3.2 -3.1v6.2m-2.6 -5.9l5.2 5.6m-5.2 0l5.2 -5.6M257.30 208.10h6.4m-3.2 -3.1v6.2m-2.6 -5.9l5.2 5.6m-5.2 0l5.2 -5.6M269.18 208.31h6.4m-3.2 -3.1v6.2m-2.6 -5.9l5.2 5.6m-5.2 0l5.2 -5.6M281.05 209.37h6.4m-3.2 -3.1v6.2m-2.6 -5.9l5.2 5.6m-5.2 0l5.2 -5.6M292.93 210.44h6.4m-3.2 -3.1v6.2m-2.6 -5.9l5.2 5.6m-5.2 0l5.2 -5.6M304.80 210.44h6.4m-3.2 -3.1v6.2m-2.6 -5.9l5.2 5.6m-5.2 0l5.2 -5.6"/>
</g>
</g>
<path class="grid" d="M23.00 201.20H308.00M23.00 184.40H308.00M23.00 167.60H308.00M23.00 150.80H308.00M70.50 134.00V218.00M118.00 134.00V218.00M165.50 134.00V218.00M213.00 134.00V218.00M260.50 134.00V218.00"/>
<path class="tick" d="M46.75 218.00v-4.3M46.75 134.00v4.3M70.50 218.00v-4.3M70.50 134.00v4.3M94.25 218.00v-4.3M94.25 134.00v4.3M118.00 218.00v-4.3M118.00 134.00v4.3M141.75 218.00v-4.3M141.75 134.00v4.3M165.50 218.00v-4.3M165.50 134.00v4.3M189.25 218.00v-4.3M189.25 134.00v4.3M213.00 218.00v-4.3M213.00 134.00v4.3M236.75 218.00v-4.3M236.75 134.00v4.3M260.50 218.00v-4.3M260.50 134.00v4.3M284.25 218.00v-4.3M284.25 134.00v4.3M23.00 209.60h3.9M308.00 209.60h-3.9M23.00 201.20h5.5M308.00 201.20h-5.5M23.00 192.80h3.9M308.00 192.80h-3.9M23.00 184.40h5.5M308.00 184.40h-5.5M23.00 176.00h3.9M308.00 176.00h-3.9M23.00 167.60h5.5M308.00 167.60h-5.5M23.00 159.20h3.9M308.00 159.20h-3.9M23.00 150.80h5.5M308.00 150.80h-5.5M23.00 142.40h3.9M308.00 142.40h-3.9"/>
<rect class="frame" x="23.00" y="134.00" width="285.00" height="84.00"/>
<text class="yl" x="18.30" y="221.30">0</text>
<text class="yl" x="18.30" y="204.50">10</text>
<text class="yl" x="18.30" y="187.70">20</text>
<text class="yl" x="18.30" y="170.90">30</text>
<text class="yl" x="18.30" y="154.10">40</text>
<text class="yl" x="18.30" y="137.30">50</text>
<text class="xl" x="23.00" y="228.50">0</text>
<text class="xl" x="70.50" y="228.50">4</text>
<text class="xl" x="118.00" y="228.50">8</text>
<text class="xl" x="165.50" y="228.50">12</text>
<text class="xl" x="213.00" y="228.50">16</text>
<text class="xl" x="260.50" y="228.50">20</text>
<text class="xl" x="308.00" y="228.50">24</text>
<text class="pt" y="130.75"><tspan x="266.05" textLength="16.80" lengthAdjust="spacingAndGlyphs">NO2</tspan> <tspan x="286.45" textLength="22.75" lengthAdjust="spacingAndGlyphs">(ppb)</tspan></text>
</g>
<g class="panel">
<g clip-path="url(#cp3)">
<g stroke="#00ffff"><polyline class="ln" points="348.00,137.14 359.88,137.99 371.75,149.88 383.62,154.13 395.50,155.62 407.38,155.20 419.25,153.92 431.12,155.62 443.00,146.06 454.88,137.99 466.75,146.70 478.62,147.55 490.50,146.48 502.38,145.00 514.25,138.62 526.12,149.88 538.00,167.73 549.88,167.31 561.75,167.73 573.62,175.80 585.50,182.18 597.38,185.37 609.25,184.30 621.12,182.18 633.00,178.99"/>
<path class="mk" d="M344.80 137.14h6.4m-3.2 -3.1v6.2m-2.6 -5.9l5.2 5.6m-5.2 0l5.2 -5.6M356.68 137.99h6.4m-3.2 -3.1v6.2m-2.6 -5.9l5.2 5.6m-5.2 0l5.2 -5.6M368.55 149.88h6.4m-3.2 -3.1v6.2m-2.6 -5.9l5.2 5.6m-5.2 0l5.2 -5.6M380.43 154.13h6.4m-3.2 -3.1v6.2m-2.6 -5.9l5.2 5.6m-5.2 0l5.2 -5.6M392.30 155.62h6.4m-3.2 -3.1v6.2m-2.6 -5.9l5.2 5.6m-5.2 0l5.2 -5.6M404.18 155.20h6.4m-3.2 -3.1v6.2m-2.6 -5.9l5.2 5.6m-5.2 0l5.2 -5.6M416.05 153.92h6.4m-3.2 -3.1v6.2m-2.6 -5.9l5.2 5.6m-5.2 0l5.2 -5.6M427.93 155.62h6.4m-3.2 -3.1v6.2m-2.6 -5.9l5.2 5.6m-5.2 0l5.2 -5.6M439.80 146.06h6.4m-3.2 -3.1v6.2m-2.6 -5.9l5.2 5.6m-5.2 0l5.2 -5.6M451.68 137.99h6.4m-3.2 -3.1v6.2m-2.6 -5.9l5.2 5.6m-5.2 0l5.2 -5.6M463.55 146.70h6.4m-3.2 -3.1v6.2m-2.6 -5.9l5.2 5.6m-5.2 0l5.2 -5.6M475.43 147.55h6.4m-3.2 -3.1v6.2m-2.6 -5.9l5.2 5.6m-5.2 0l5.2 -5.6M487.30 146.48h6.4m-3.2 -3.1v6.2m-2.6 -5.9l5.2 5.6m-5.2 0l5.2 -5.6M499.18 145.00h6.4m-3.2 -3.1v6.2m-2.6 -5.9l5.2 5.6m-5.2 0l5.2 -5.6M511.05 138.62h6.4m-3.2 -3.1v6.2m-2.6 -5.9l5.2 5.6m-5.2 0l5.2 -5.6M522.92 149.88h6.4m-3.2 -3.1v6.2m-2.6 -5.9l5.2 5.6m-5.2 0l5.2 -5.6M534.80 167.73h6.4m-3.2 -3.1v6.2m-2.6 -5.9l5.2 5.6m-5.2 0l5.2 -5.6M546.67 167.31h6.4m-3.2 -3.1v6.2m-2.6 -5.9l5.2 5.6m-5.2 0l5.2 -5.6M558.55 167.73h6.4m-3.2 -3.1v6.2m-2.6 -5.9l5.2 5.6m-5.2 0l5.2 -5.6M570.42 175.80h6.4m-3.2 -3.1v6.2m-2.6 -5.9l5.2 5.6m-5.2 0l5.2 -5.6M582.30 182.18h6.4m-3.2 -3.1v6.2m-2.6 -5.9l5.2 5.6m-5.2 0l5.2 -5.6M594.17 185.37h6.4m-3.2 -3.1v6.2m-2.6 -5.9l5.2 5.6m-5.2 0l5.2 -5.6M606.05 184.30h6.4m-3.2 -3.1v6.2m-2.6 -5.9l5.2 5.6m-5.2 0l5.2 -5.6M617.92 182.18h6.4m-3.2 -3.1v6.2m-2.6 -5.9l5.2 5.6m-5.2 0l5.2 -5.6M629.80 178.99h6.4m-3.2 -3.1v6.2m-2.6 -5.9l5.2 5.6m-5.2 0l5.2 -5.6"/>
</g>
<g stroke="#00ff00"><polyline class="ln" points="348.00,178.99 359.88,179.63 371.75,182.18 383.62,181.54 395.50,184.94 407.38,188.13 419.25,187.07 431.12,184.30 443.00,184.94 454.88,185.37 466.75,185.79 478.62,185.37 490.50,185.37 502.38,179.63 514.25,184.94 526.12,192.80 538.00,192.80 549.88,189.61 561.75,184.30 573.62,183.88 585.50,177.93 597.38,179.63 609.25,180.05 621.12,183.67 633.00,183.24"/>
<path class="mk" d="M344.80 178.99h6.4m-3.2 -3.1v6.2m-2.6 -5.9l5.2 5.6m-5.2 0l5.2 -5.6M356.68 179.63h6.4m-3.2 -3.1v6.2m-2.6 -5.9l5.2 5.6m-5.2 0l5.2 -5.6M368.55 182.18h6.4m-3.2 -3.1v6.2m-2.6 -5.9l5.2 5.6m-5.2 0l5.2 -5.6M380.43 181.54h6.4m-3.2 -3.1v6.2m-2.6 -5.9l5.2 5.6m-5.2 0l5.2 -5.6M392.30 184.94h6.4m-3.2 -3.1v6.2m-2.6 -5.9l5.2 5.6m-5.2 0l5.2 -5.6M404.18 188.13h6.4m-3.2 -3.1v6.2m-2.6 -5.9l5.2 5.6m-5.2 0l5.2 -5.6M416.05 187.07h6.4m-3.2 -3.1v6.2m-2.6 -5.9l5.2 5.6m-5.2 0l5.2 -5.6M427.93 184.30h6.4m-3.2 -3.1v6.2m-2.6 -5.9l5.2 5.6m-5.2 0l5.2 -5.6M439.80 184.94h6.4m-3.2 -3.1v6.2m-2.6 -5.9l5.2 5.6m-5.2 0l5.2 -5.6M451.68 185.37h6.4m-3.2 -3.1v6.2m-2.6 -5.9l5.2 5.6m-5.2 0l5.2 -5.6M463.55 185.79h6.4m-3.2 -3.1v6.2m-2.6 -5.9l5.2 5.6m-5.2 0l5.2 -5.6M475.43 185.37h6.4m-3.2 -3.1v6.2m-2.6 -5.9l5.2 5.6m-5.2 0l5.2 -5.6M487.30 185.37h6.4m-3.2 -3.1v6.2m-2.6 -5.9l5.2 5.6m-5.2 0l5.2 -5.6M499.18 179.63h6.4m-3.2 -3.1v6.2m-2.6 -5.9l5.2 5.6m-5.2 0l5.2 -5.6M511.05 184.94h6.4m-3.2 -3.1v6.2m-2.6 -5.9l5.2 5.6m-5.2 0l5.2 -5.6M522.92 192.80h6.4m-3.2 -3.1v6.2m-2.6 -5.9l5.2 5.6m-5.2 0l5.2 -5.6M534.80 192.80h6.4m-3.2 -3.1v6.2m-2.6 -5.9l5.2 5.6m-5.2 0l5.2 -5.6M546.67 189.61h6.4m-3.2 -3.1v6.2m-2.6 -5.9l5.2 5.6m-5.2 0l5.2 -5.6M558.55 184.30h6.4m-3.2 -3.1v6.2m-2.6 -5.9l5.2 5.6m-5.2 0l5.2 -5.6M570.42 183.88h6.4m-3.2 -3.1v6.2m-2.6 -5.9l5.2 5.6m-5.2 0l5.2 -5.6M582.30 177.93h6.4m-3.2 -3.1v6.2m-2.6 -5.9l5.2 5.6m-5.2 0l5.2 -5.6M594.17 179.63h6.4m-3.2 -3.1v6.2m-2.6 -5.9l5.2 5.6m-5.2 0l5.2 -5.6M606.05 180.05h6.4m-3.2 -3.1v6.2m-2.6 -5.9l5.2 5.6m-5.2 0l5.2 -5.6M617.92 183.67h6.4m-3.2 -3.1v6.2m-2.6 -5.9l5.2 5.6m-5.2 0l5.2 -5.6M629.80 183.24h6.4m-3.2 -3.1v6.2m-2.6 -5.9l5.2 5.6m-5.2 0l5.2 -5.6"/>
</g>
<g stroke="#0404ff"><polyline class="ln" points="348.00,182.82 359.88,182.82 371.75,185.79 383.62,188.55 395.50,191.74 407.38,195.35 419.25,188.98 431.12,188.13 443.00,183.24 454.88,181.12 466.75,169.86 478.62,174.74 490.50,179.63 502.38,178.99 514.25,175.17 526.12,171.56 538.00,168.79 549.88,166.67 561.75,165.18 573.62,160.93 585.50,169.86 597.38,168.79 609.25,164.54 621.12,167.94 633.00,175.17"/>
<path class="mk" d="M344.80 182.82h6.4m-3.2 -3.1v6.2m-2.6 -5.9l5.2 5.6m-5.2 0l5.2 -5.6M356.68 182.82h6.4m-3.2 -3.1v6.2m-2.6 -5.9l5.2 5.6m-5.2 0l5.2 -5.6M368.55 185.79h6.4m-3.2 -3.1v6.2m-2.6 -5.9l5.2 5.6m-5.2 0l5.2 -5.6M380.43 188.55h6.4m-3.2 -3.1v6.2m-2.6 -5.9l5.2 5.6m-5.2 0l5.2 -5.6M392.30 191.74h6.4m-3.2 -3.1v6.2m-2.6 -5.9l5.2 5.6m-5.2 0l5.2 -5.6M404.18 195.35h6.4m-3.2 -3.1v6.2m-2.6 -5.9l5.2 5.6m-5.2 0l5.2 -5.6M416.05 188.98h6.4m-3.2 -3.1v6.2m-2.6 -5.9l5.2 5.6m-5.2 0l5.2 -5.6M427.93 188.13h6.4m-3.2 -3.1v6.2m-2.6 -5.9l5.2 5.6m-5.2 0l5.2 -5.6M439.80 183.24h6.4m-3.2 -3.1v6.2m-2.6 -5.9l5.2 5.6m-5.2 0l5.2 -5.6M451.68 181.12h6.4m-3.2 -3.1v6.2m-2.6 -5.9l5.2 5.6m-5.2 0l5.2 -5.6M463.55 169.86h6.4m-3.2 -3.1v6.2m-2.6 -5.9l5.2 5.6m-5.2 0l5.2 -5.6M475.43 174.74h6.4m-3.2 -3.1v6.2m-2.6 -5.9l5.2 5.6m-5.2 0l5.2 -5.6M487.30 179.63h6.4m-3.2 -3.1v6.2m-2.6 -5.9l5.2 5.6m-5.2 0l5.2 -5.6M499.18 178.99h6.4m-3.2 -3.1v6.2m-2.6 -5.9l5.2 5.6m-5.2 0l5.2 -5.6M511.05 175.17h6.4m-3.2 -3.1v6.2m-2.6 -5.9l5.2 5.6m-5.2 0l5.2 -5.6M522.92 171.56h6.4m-3.2 -3.1v6.2m-2.6 -5.9l5.2 5.6m-5.2 0l5.2 -5.6M534.80 168.79h6.4m-3.2 -3.1v6.2m-2.6 -5.9l5.2 5.6m-5.2 0l5.2 -5.6M546.67 166.67h6.4m-3.2 -3.1v6.2m-2.6 -5.9l5.2 5.6m-5.2 0l5.2 -5.6M558.55 165.18h6.4m-3.2 -3.1v6.2m-2.6 -5.9l5.2 5.6m-5.2 0l5.2 -5.6M570.42 160.93h6.4m-3.2 -3.1v6.2m-2.6 -5.9l5.2 5.6m-5.2 0l5.2 -5.6M582.30 169.86h6.4m-3.2 -3.1v6.2m-2.6 -5.9l5.2 5.6m-5.2 0l5.2 -5.6M594.17 168.79h6.4m-3.2 -3.1v6.2m-2.6 -5.9l5.2 5.6m-5.2 0l5.2 -5.6M606.05 164.54h6.4m-3.2 -3.1v6.2m-2.6 -5.9l5.2 5.6m-5.2 0l5.2 -5.6M617.92 167.94h6.4m-3.2 -3.1v6.2m-2.6 -5.9l5.2 5.6m-5.2 0l5.2 -5.6M629.80 175.17h6.4m-3.2 -3.1v6.2m-2.6 -5.9l5.2 5.6m-5.2 0l5.2 -5.6"/>
</g>
<g stroke="#ff0000"><polyline class="ln" points="348.00,174.74 359.88,178.35 371.75,186.85 383.62,191.31 395.50,193.86 407.38,191.10 419.25,188.76 431.12,165.82 443.00,167.31 454.88,199.18 466.75,212.99 478.62,208.10 490.50,207.25 502.38,209.16 514.25,204.06 526.12,205.12 538.00,204.49 549.88,201.94 561.75,200.24 573.62,201.30 585.50,204.49 597.38,205.97 609.25,200.24 621.12,200.66 633.00,202.79"/>
<path class="mk" d="M344.80 174.74h6.4m-3.2 -3.1v6.2m-2.6 -5.9l5.2 5.6m-5.2 0l5.2 -5.6M356.68 178.35h6.4m-3.2 -3.1v6.2m-2.6 -5.9l5.2 5.6m-5.2 0l5.2 -5.6M368.55 186.85h6.4m-3.2 -3.1v6.2m-2.6 -5.9l5.2 5.6m-5.2 0l5.2 -5.6M380.43 191.31h6.4m-3.2 -3.1v6.2m-2.6 -5.9l5.2 5.6m-5.2 0l5.2 -5.6M392.30 193.86h6.4m-3.2 -3.1v6.2m-2.6 -5.9l5.2 5.6m-5.2 0l5.2 -5.6M404.18 191.10h6.4m-3.2 -3.1v6.2m-2.6 -5.9l5.2 5.6m-5.2 0l5.2 -5.6M416.05 188.76h6.4m-3.2 -3.1v6.2m-2.6 -5.9l5.2 5.6m-5.2 0l5.2 -5.6M427.93 165.82h6.4m-3.2 -3.1v6.2m-2.6 -5.9l5.2 5.6m-5.2 0l5.2 -5.6M439.80 167.31h6.4m-3.2 -3.1v6.2m-2.6 -5.9l5.2 5.6m-5.2 0l5.2 -5.6M451.68 199.18h6.4m-3.2 -3.1v6.2m-2.6 -5.9l5.2 5.6m-5.2 0l5.2 -5.6M463.55 212.99h6.4m-3.2 -3.1v6.2m-2.6 -5.9l5.2 5.6m-5.2 0l5.2 -5.6M475.43 208.10h6.4m-3.2 -3.1v6.2m-2.6 -5.9l5.2 5.6m-5.2 0l5.2 -5.6M487.30 207.25h6.4m-3.2 -3.1v6.2m-2.6 -5.9l5.2 5.6m-5.2 0l5.2 -5.6M499.18 209.16h6.4m-3.2 -3.1v6.2m-2.6 -5.9l5.2 5.6m-5.2 0l5.2 -5.6M511.05 204.06h6.4m-3.2 -3.1v6.2m-2.6 -5.9l5.2 5.6m-5.2 0l5.2 -5.6M522.92 205.12h6.4m-3.2 -3.1v6.2m-2.6 -5.9l5.2 5.6m-5.2 0l5.2 -5.6M534.80 204.49h6.4m-3.2 -3.1v6.2m-2.6 -5.9l5.2 5.6m-5.2 0l5.2 -5.6M546.67 201.94h6.4m-3.2 -3.1v6.2m-2.6 -5.9l5.2 5.6m-5.2 0l5.2 -5.6M558.55 200.24h6.4m-3.2 -3.1v6.2m-2.6 -5.9l5.2 5.6m-5.2 0l5.2 -5.6M570.42 201.30h6.4m-3.2 -3.1v6.2m-2.6 -5.9l5.2 5.6m-5.2 0l5.2 -5.6M582.30 204.49h6.4m-3.2 -3.1v6.2m-2.6 -5.9l5.2 5.6m-5.2 0l5.2 -5.6M594.17 205.97h6.4m-3.2 -3.1v6.2m-2.6 -5.9l5.2 5.6m-5.2 0l5.2 -5.6M606.05 200.24h6.4m-3.2 -3.1v6.2m-2.6 -5.9l5.2 5.6m-5.2 0l5.2 -5.6M617.92 200.66h6.4m-3.2 -3.1v6.2m-2.6 -5.9l5.2 5.6m-5.2 0l5.2 -5.6M629.80 202.79h6.4m-3.2 -3.1v6.2m-2.6 -5.9l5.2 5.6m-5.2 0l5.2 -5.6"/>
</g>
</g>
<path class="grid" d="M348.00 206.00H633.00M348.00 194.00H633.00M348.00 182.00H633.00M348.00 170.00H633.00M348.00 158.00H633.00M348.00 146.00H633.00M395.50 134.00V218.00M443.00 134.00V218.00M490.50 134.00V218.00M538.00 134.00V218.00M585.50 134.00V218.00"/>
<path class="tick" d="M371.75 218.00v-4.3M371.75 134.00v4.3M395.50 218.00v-4.3M395.50 134.00v4.3M419.25 218.00v-4.3M419.25 134.00v4.3M443.00 218.00v-4.3M443.00 134.00v4.3M466.75 218.00v-4.3M466.75 134.00v4.3M490.50 218.00v-4.3M490.50 134.00v4.3M514.25 218.00v-4.3M514.25 134.00v4.3M538.00 218.00v-4.3M538.00 134.00v4.3M561.75 218.00v-4.3M561.75 134.00v4.3M585.50 218.00v-4.3M585.50 134.00v4.3M609.25 218.00v-4.3M609.25 134.00v4.3M348.00 212.00h3.9M633.00 212.00h-3.9M348.00 206.00h5.5M633.00 206.00h-5.5M348.00 200.00h3.9M633.00 200.00h-3.9M348.00 194.00h5.5M633.00 194.00h-5.5M348.00 188.00h3.9M633.00 188.00h-3.9M348.00 182.00h5.5M633.00 182.00h-5.5M348.00 176.00h3.9M633.00 176.00h-3.9M348.00 170.00h5.5M633.00 170.00h-5.5M348.00 164.00h3.9M633.00 164.00h-3.9M348.00 158.00h5.5M633.00 158.00h-5.5M348.00 152.00h3.9M633.00 152.00h-3.9M348.00 146.00h5.5M633.00 146.00h-5.5M348.00 140.00h3.9M633.00 140.00h-3.9"/>
<rect class="frame" x="348.00" y="134.00" width="285.00" height="84.00"/>
<text class="yl" x="343.30" y="221.30">0</text>
<text class="yl" x="343.30" y="209.30">10</text>
<text class="yl" x="343.30" y="197.30">20</text>
<text class="yl" x="343.30" y="185.30">30</text>
<text class="yl" x="343.30" y="173.30">40</text>
<text class="yl" x="343.30" y="161.30">50</text>
<text class="yl" x="343.30" y="149.30">60</text>
<text class="yl" x="343.30" y="137.30">70</text>
<text class="xl" x="348.00" y="228.50">0</text>
<text class="xl" x="395.50" y="228.50">4</text>
<text class="xl" x="443.00" y="228.50">8</text>
<text class="xl" x="490.50" y="228.50">12</text>
<text class="xl" x="538.00" y="228.50">16</text>
<text class="xl" x="585.50" y="228.50">20</text>
<text class="xl" x="633.00" y="228.50">24</text>
<text class="pt" y="130.75"><tspan x="577.00" textLength="14.80" lengthAdjust="spacingAndGlyphs">RSP</tspan> <tspan class="lt" x="597.00" textLength="37.50" lengthAdjust="spacingAndGlyphs">(ug/m3)</tspan></text>
</g>
<g class="panel">
<g clip-path="url(#cp4)">
<g stroke="#00ffff"><polyline class="ln" points="673.00,153.50 684.88,153.50 696.75,170.07 708.62,174.10 720.50,173.68 732.38,172.62 744.25,170.92 756.12,167.31 768.00,159.87 779.88,148.61 791.75,156.26 803.62,149.88 815.50,147.12 827.38,146.48 839.25,142.87 851.12,153.50 863.00,173.04 874.88,176.87 886.75,170.49 898.62,180.05 910.50,190.25 922.38,194.93 934.25,195.99 946.12,193.86 958.00,191.74"/>
<path class="mk" d="M669.80 153.50h6.4m-3.2 -3.1v6.2m-2.6 -5.9l5.2 5.6m-5.2 0l5.2 -5.6M681.67 153.50h6.4m-3.2 -3.1v6.2m-2.6 -5.9l5.2 5.6m-5.2 0l5.2 -5.6M693.55 170.07h6.4m-3.2 -3.1v6.2m-2.6 -5.9l5.2 5.6m-5.2 0l5.2 -5.6M705.42 174.10h6.4m-3.2 -3.1v6.2m-2.6 -5.9l5.2 5.6m-5.2 0l5.2 -5.6M717.30 173.68h6.4m-3.2 -3.1v6.2m-2.6 -5.9l5.2 5.6m-5.2 0l5.2 -5.6M729.17 172.62h6.4m-3.2 -3.1v6.2m-2.6 -5.9l5.2 5.6m-5.2 0l5.2 -5.6M741.05 170.92h6.4m-3.2 -3.1v6.2m-2.6 -5.9l5.2 5.6m-5.2 0l5.2 -5.6M752.92 167.31h6.4m-3.2 -3.1v6.2m-2.6 -5.9l5.2 5.6m-5.2 0l5.2 -5.6M764.80 159.87h6.4m-3.2 -3.1v6.2m-2.6 -5.9l5.2 5.6m-5.2 0l5.2 -5.6M776.67 148.61h6.4m-3.2 -3.1v6.2m-2.6 -5.9l5.2 5.6m-5.2 0l5.2 -5.6M788.55 156.26h6.4m-3.2 -3.1v6.2m-2.6 -5.9l5.2 5.6m-5.2 0l5.2 -5.6M800.42 149.88h6.4m-3.2 -3.1v6.2m-2.6 -5.9l5.2 5.6m-5.2 0l5.2 -5.6M812.30 147.12h6.4m-3.2 -3.1v6.2m-2.6 -5.9l5.2 5.6m-5.2 0l5.2 -5.6M824.17 146.48h6.4m-3.2 -3.1v6.2m-2.6 -5.9l5.2 5.6m-5.2 0l5.2 -5.6M836.05 142.87h6.4m-3.2 -3.1v6.2m-2.6 -5.9l5.2 5.6m-5.2 0l5.2 -5.6M847.92 153.50h6.4m-3.2 -3.1v6.2m-2.6 -5.9l5.2 5.6m-5.2 0l5.2 -5.6M859.80 173.04h6.4m-3.2 -3.1v6.2m-2.6 -5.9l5.2 5.6m-5.2 0l5.2 -5.6M871.67 176.87h6.4m-3.2 -3.1v6.2m-2.6 -5.9l5.2 5.6m-5.2 0l5.2 -5.6M883.55 170.49h6.4m-3.2 -3.1v6.2m-2.6 -5.9l5.2 5.6m-5.2 0l5.2 -5.6M895.42 180.05h6.4m-3.2 -3.1v6.2m-2.6 -5.9l5.2 5.6m-5.2 0l5.2 -5.6M907.30 190.25h6.4m-3.2 -3.1v6.2m-2.6 -5.9l5.2 5.6m-5.2 0l5.2 -5.6M919.17 194.93h6.4m-3.2 -3.1v6.2m-2.6 -5.9l5.2 5.6m-5.2 0l5.2 -5.6M931.05 195.99h6.4m-3.2 -3.1v6.2m-2.6 -5.9l5.2 5.6m-5.2 0l5.2 -5.6M942.92 193.86h6.4m-3.2 -3.1v6.2m-2.6 -5.9l5.2 5.6m-5.2 0l5.2 -5.6M954.80 191.74h6.4m-3.2 -3.1v6.2m-2.6 -5.9l5.2 5.6m-5.2 0l5.2 -5.6"/>
</g>
<g stroke="#00ff00"><polyline class="ln" points="673.00,191.74 684.88,193.86 696.75,197.05 708.62,196.63 720.50,195.99 732.38,198.11 744.25,200.24 756.12,194.93 768.00,194.50 779.88,193.86 791.75,194.93 803.62,195.99 815.50,197.05 827.38,184.30 839.25,185.37 851.12,192.16 863.00,194.93 874.88,192.16 886.75,182.60 898.62,180.05 910.50,176.87 922.38,178.35 934.25,175.38 946.12,182.82 958.00,182.60"/>
<path class="mk" d="M669.80 191.74h6.4m-3.2 -3.1v6.2m-2.6 -5.9l5.2 5.6m-5.2 0l5.2 -5.6M681.67 193.86h6.4m-3.2 -3.1v6.2m-2.6 -5.9l5.2 5.6m-5.2 0l5.2 -5.6M693.55 197.05h6.4m-3.2 -3.1v6.2m-2.6 -5.9l5.2 5.6m-5.2 0l5.2 -5.6M705.42 196.63h6.4m-3.2 -3.1v6.2m-2.6 -5.9l5.2 5.6m-5.2 0l5.2 -5.6M717.30 195.99h6.4m-3.2 -3.1v6.2m-2.6 -5.9l5.2 5.6m-5.2 0l5.2 -5.6M729.17 198.11h6.4m-3.2 -3.1v6.2m-2.6 -5.9l5.2 5.6m-5.2 0l5.2 -5.6M741.05 200.24h6.4m-3.2 -3.1v6.2m-2.6 -5.9l5.2 5.6m-5.2 0l5.2 -5.6M752.92 194.93h6.4m-3.2 -3.1v6.2m-2.6 -5.9l5.2 5.6m-5.2 0l5.2 -5.6M764.80 194.50h6.4m-3.2 -3.1v6.2m-2.6 -5.9l5.2 5.6m-5.2 0l5.2 -5.6M776.67 193.86h6.4m-3.2 -3.1v6.2m-2.6 -5.9l5.2 5.6m-5.2 0l5.2 -5.6M788.55 194.93h6.4m-3.2 -3.1v6.2m-2.6 -5.9l5.2 5.6m-5.2 0l5.2 -5.6M800.42 195.99h6.4m-3.2 -3.1v6.2m-2.6 -5.9l5.2 5.6m-5.2 0l5.2 -5.6M812.30 197.05h6.4m-3.2 -3.1v6.2m-2.6 -5.9l5.2 5.6m-5.2 0l5.2 -5.6M824.17 184.30h6.4m-3.2 -3.1v6.2m-2.6 -5.9l5.2 5.6m-5.2 0l5.2 -5.6M836.05 185.37h6.4m-3.2 -3.1v6.2m-2.6 -5.9l5.2 5.6m-5.2 0l5.2 -5.6M847.92 192.16h6.4m-3.2 -3.1v6.2m-2.6 -5.9l5.2 5.6m-5.2 0l5.2 -5.6M859.80 194.93h6.4m-3.2 -3.1v6.2m-2.6 -5.9l5.2 5.6m-5.2 0l5.2 -5.6M871.67 192.16h6.4m-3.2 -3.1v6.2m-2.6 -5.9l5.2 5.6m-5.2 0l5.2 -5.6M883.55 182.60h6.4m-3.2 -3.1v6.2m-2.6 -5.9l5.2 5.6m-5.2 0l5.2 -5.6M895.42 180.05h6.4m-3.2 -3.1v6.2m-2.6 -5.9l5.2 5.6m-5.2 0l5.2 -5.6M907.30 176.87h6.4m-3.2 -3.1v6.2m-2.6 -5.9l5.2 5.6m-5.2 0l5.2 -5.6M919.17 178.35h6.4m-3.2 -3.1v6.2m-2.6 -5.9l5.2 5.6m-5.2 0l5.2 -5.6M931.05 175.38h6.4m-3.2 -3.1v6.2m-2.6 -5.9l5.2 5.6m-5.2 0l5.2 -5.6M942.92 182.82h6.4m-3.2 -3.1v6.2m-2.6 -5.9l5.2 5.6m-5.2 0l5.2 -5.6M954.80 182.60h6.4m-3.2 -3.1v6.2m-2.6 -5.9l5.2 5.6m-5.2 0l5.2 -5.6"/>
</g>
<g stroke="#0404ff"><polyline class="ln" points="673.00,182.18 684.88,180.05 696.75,183.88 708.62,185.79 720.50,190.25 732.38,194.50 744.25,185.37 756.12,183.88 768.00,183.24 779.88,182.82 791.75,169.86 803.62,174.32 815.50,182.18 827.38,182.60 839.25,176.87 851.12,172.62 863.00,172.62 874.88,171.98 886.75,170.07 898.62,165.82 910.50,177.93 922.38,172.62 934.25,166.88 946.12,166.67 958.00,173.68"/>
<path class="mk" d="M669.80 182.18h6.4m-3.2 -3.1v6.2m-2.6 -5.9l5.2 5.6m-5.2 0l5.2 -5.6M681.67 180.05h6.4m-3.2 -3.1v6.2m-2.6 -5.9l5.2 5.6m-5.2 0l5.2 -5.6M693.55 183.88h6.4m-3.2 -3.1v6.2m-2.6 -5.9l5.2 5.6m-5.2 0l5.2 -5.6M705.42 185.79h6.4m-3.2 -3.1v6.2m-2.6 -5.9l5.2 5.6m-5.2 0l5.2 -5.6M717.30 190.25h6.4m-3.2 -3.1v6.2m-2.6 -5.9l5.2 5.6m-5.2 0l5.2 -5.6M729.17 194.50h6.4m-3.2 -3.1v6.2m-2.6 -5.9l5.2 5.6m-5.2 0l5.2 -5.6M741.05 185.37h6.4m-3.2 -3.1v6.2m-2.6 -5.9l5.2 5.6m-5.2 0l5.2 -5.6M752.92 183.88h6.4m-3.2 -3.1v6.2m-2.6 -5.9l5.2 5.6m-5.2 0l5.2 -5.6M764.80 183.24h6.4m-3.2 -3.1v6.2m-2.6 -5.9l5.2 5.6m-5.2 0l5.2 -5.6M776.67 182.82h6.4m-3.2 -3.1v6.2m-2.6 -5.9l5.2 5.6m-5.2 0l5.2 -5.6M788.55 169.86h6.4m-3.2 -3.1v6.2m-2.6 -5.9l5.2 5.6m-5.2 0l5.2 -5.6M800.42 174.32h6.4m-3.2 -3.1v6.2m-2.6 -5.9l5.2 5.6m-5.2 0l5.2 -5.6M812.30 182.18h6.4m-3.2 -3.1v6.2m-2.6 -5.9l5.2 5.6m-5.2 0l5.2 -5.6M824.17 182.60h6.4m-3.2 -3.1v6.2m-2.6 -5.9l5.2 5.6m-5.2 0l5.2 -5.6M836.05 176.87h6.4m-3.2 -3.1v6.2m-2.6 -5.9l5.2 5.6m-5.2 0l5.2 -5.6M847.92 172.62h6.4m-3.2 -3.1v6.2m-2.6 -5.9l5.2 5.6m-5.2 0l5.2 -5.6M859.80 172.62h6.4m-3.2 -3.1v6.2m-2.6 -5.9l5.2 5.6m-5.2 0l5.2 -5.6M871.67 171.98h6.4m-3.2 -3.1v6.2m-2.6 -5.9l5.2 5.6m-5.2 0l5.2 -5.6M883.55 170.07h6.4m-3.2 -3.1v6.2m-2.6 -5.9l5.2 5.6m-5.2 0l5.2 -5.6M895.42 165.82h6.4m-3.2 -3.1v6.2m-2.6 -5.9l5.2 5.6m-5.2 0l5.2 -5.6M907.30 177.93h6.4m-3.2 -3.1v6.2m-2.6 -5.9l5.2 5.6m-5.2 0l5.2 -5.6M919.17 172.62h6.4m-3.2 -3.1v6.2m-2.6 -5.9l5.2 5.6m-5.2 0l5.2 -5.6M931.05 166.88h6.4m-3.2 -3.1v6.2m-2.6 -5.9l5.2 5.6m-5.2 0l5.2 -5.6M942.92 166.67h6.4m-3.2 -3.1v6.2m-2.6 -5.9l5.2 5.6m-5.2 0l5.2 -5.6M954.80 173.68h6.4m-3.2 -3.1v6.2m-2.6 -5.9l5.2 5.6m-5.2 0l5.2 -5.6"/>
</g>
<g stroke="#ff0000"><polyline class="ln" points="673.00,173.68 684.88,175.17 696.75,188.55 708.62,195.99 720.50,195.56 732.38,194.29 744.25,190.68 756.12,159.44 768.00,167.73 779.88,205.12 791.75,212.35 803.62,211.92 815.50,211.29 827.38,212.56 839.25,207.25 851.12,209.37 863.00,210.22 874.88,208.10 886.75,207.25 898.62,206.19 910.50,210.44 922.38,212.35 934.25,202.36 946.12,204.06 958.00,205.55"/>
<path class="mk" d="M669.80 173.68h6.4m-3.2 -3.1v6.2m-2.6 -5.9l5.2 5.6m-5.2 0l5.2 -5.6M681.67 175.17h6.4m-3.2 -3.1v6.2m-2.6 -5.9l5.2 5.6m-5.2 0l5.2 -5.6M693.55 188.55h6.4m-3.2 -3.1v6.2m-2.6 -5.9l5.2 5.6m-5.2 0l5.2 -5.6M705.42 195.99h6.4m-3.2 -3.1v6.2m-2.6 -5.9l5.2 5.6m-5.2 0l5.2 -5.6M717.30 195.56h6.4m-3.2 -3.1v6.2m-2.6 -5.9l5.2 5.6m-5.2 0l5.2 -5.6M729.17 194.29h6.4m-3.2 -3.1v6.2m-2.6 -5.9l5.2 5.6m-5.2 0l5.2 -5.6M741.05 190.68h6.4m-3.2 -3.1v6.2m-2.6 -5.9l5.2 5.6m-5.2 0l5.2 -5.6M752.92 159.44h6.4m-3.2 -3.1v6.2m-2.6 -5.9l5.2 5.6m-5.2 0l5.2 -5.6M764.80 167.73h6.4m-3.2 -3.1v6.2m-2.6 -5.9l5.2 5.6m-5.2 0l5.2 -5.6M776.67 205.12h6.4m-3.2 -3.1v6.2m-2.6 -5.9l5.2 5.6m-5.2 0l5.2 -5.6M788.55 212.35h6.4m-3.2 -3.1v6.2m-2.6 -5.9l5.2 5.6m-5.2 0l5.2 -5.6M800.42 211.92h6.4m-3.2 -3.1v6.2m-2.6 -5.9l5.2 5.6m-5.2 0l5.2 -5.6M812.30 211.29h6.4m-3.2 -3.1v6.2m-2.6 -5.9l5.2 5.6m-5.2 0l5.2 -5.6M824.17 212.56h6.4m-3.2 -3.1v6.2m-2.6 -5.9l5.2 5.6m-5.2 0l5.2 -5.6M836.05 207.25h6.4m-3.2 -3.1v6.2m-2.6 -5.9l5.2 5.6m-5.2 0l5.2 -5.6M847.92 209.37h6.4m-3.2 -3.1v6.2m-2.6 -5.9l5.2 5.6m-5.2 0l5.2 -5.6M859.80 210.22h6.4m-3.2 -3.1v6.2m-2.6 -5.9l5.2 5.6m-5.2 0l5.2 -5.6M871.67 208.10h6.4m-3.2 -3.1v6.2m-2.6 -5.9l5.2 5.6m-5.2 0l5.2 -5.6M883.55 207.25h6.4m-3.2 -3.1v6.2m-2.6 -5.9l5.2 5.6m-5.2 0l5.2 -5.6M895.42 206.19h6.4m-3.2 -3.1v6.2m-2.6 -5.9l5.2 5.6m-5.2 0l5.2 -5.6M907.30 210.44h6.4m-3.2 -3.1v6.2m-2.6 -5.9l5.2 5.6m-5.2 0l5.2 -5.6M919.17 212.35h6.4m-3.2 -3.1v6.2m-2.6 -5.9l5.2 5.6m-5.2 0l5.2 -5.6M931.05 202.36h6.4m-3.2 -3.1v6.2m-2.6 -5.9l5.2 5.6m-5.2 0l5.2 -5.6M942.92 204.06h6.4m-3.2 -3.1v6.2m-2.6 -5.9l5.2 5.6m-5.2 0l5.2 -5.6M954.80 205.55h6.4m-3.2 -3.1v6.2m-2.6 -5.9l5.2 5.6m-5.2 0l5.2 -5.6"/>
</g>
</g>
<path class="grid" d="M673.00 208.67H958.00M673.00 199.33H958.00M673.00 190.00H958.00M673.00 180.67H958.00M673.00 171.33H958.00M673.00 162.00H958.00M673.00 152.67H958.00M673.00 143.33H958.00M720.50 134.00V218.00M768.00 134.00V218.00M815.50 134.00V218.00M863.00 134.00V218.00M910.50 134.00V218.00"/>
<path class="tick" d="M696.75 218.00v-4.3M696.75 134.00v4.3M720.50 218.00v-4.3M720.50 134.00v4.3M744.25 218.00v-4.3M744.25 134.00v4.3M768.00 218.00v-4.3M768.00 134.00v4.3M791.75 218.00v-4.3M791.75 134.00v4.3M815.50 218.00v-4.3M815.50 134.00v4.3M839.25 218.00v-4.3M839.25 134.00v4.3M863.00 218.00v-4.3M863.00 134.00v4.3M886.75 218.00v-4.3M886.75 134.00v4.3M910.50 218.00v-4.3M910.50 134.00v4.3M934.25 218.00v-4.3M934.25 134.00v4.3M673.00 208.67h5.5M958.00 208.67h-5.5M673.00 199.33h5.5M958.00 199.33h-5.5M673.00 190.00h5.5M958.00 190.00h-5.5M673.00 180.67h5.5M958.00 180.67h-5.5M673.00 171.33h5.5M958.00 171.33h-5.5M673.00 162.00h5.5M958.00 162.00h-5.5M673.00 152.67h5.5M958.00 152.67h-5.5M673.00 143.33h5.5M958.00 143.33h-5.5"/>
<rect class="frame" x="673.00" y="134.00" width="285.00" height="84.00"/>
<text class="yl" x="668.30" y="221.30">0</text>
<text class="yl" x="668.30" y="211.97">5</text>
<text class="yl" x="668.30" y="202.63">10</text>
<text class="yl" x="668.30" y="193.30">15</text>
<text class="yl" x="668.30" y="183.97">20</text>
<text class="yl" x="668.30" y="174.63">25</text>
<text class="yl" x="668.30" y="165.30">30</text>
<text class="yl" x="668.30" y="155.97">35</text>
<text class="yl" x="668.30" y="146.63">40</text>
<text class="yl" x="668.30" y="137.30">45</text>
<text class="xl" x="673.00" y="228.50">0</text>
<text class="xl" x="720.50" y="228.50">4</text>
<text class="xl" x="768.00" y="228.50">8</text>
<text class="xl" x="815.50" y="228.50">12</text>
<text class="xl" x="863.00" y="228.50">16</text>
<text class="xl" x="910.50" y="228.50">20</text>
<text class="xl" x="958.00" y="228.50">24</text>
<text class="pt" y="130.75"><tspan x="902.50" textLength="15.20" lengthAdjust="spacingAndGlyphs">FSP</tspan> <tspan class="lt" x="922.10" textLength="37.50" lengthAdjust="spacingAndGlyphs">(ug/m3)</tspan></text>
</g>
<g class="panel">
<g clip-path="url(#cp5)">
<g stroke="#00ffff"><polyline class="ln" points="23.00,317.74 34.88,321.99 46.75,324.11 58.62,322.62 70.50,324.11 82.38,317.10 94.25,313.91 106.12,314.55 118.00,314.55 129.88,314.97 141.75,319.86 153.62,317.31 165.50,298.61 177.38,293.30 189.25,292.88 201.12,287.57 213.00,292.88 224.88,298.61 236.75,309.24 248.62,316.67 260.50,319.44 272.38,319.01 284.25,311.79 296.12,316.46 308.00,313.91"/>
<path class="mk" d="M19.80 317.74h6.4m-3.2 -3.1v6.2m-2.6 -5.9l5.2 5.6m-5.2 0l5.2 -5.6M31.68 321.99h6.4m-3.2 -3.1v6.2m-2.6 -5.9l5.2 5.6m-5.2 0l5.2 -5.6M43.55 324.11h6.4m-3.2 -3.1v6.2m-2.6 -5.9l5.2 5.6m-5.2 0l5.2 -5.6M55.42 322.62h6.4m-3.2 -3.1v6.2m-2.6 -5.9l5.2 5.6m-5.2 0l5.2 -5.6M67.30 324.11h6.4m-3.2 -3.1v6.2m-2.6 -5.9l5.2 5.6m-5.2 0l5.2 -5.6M79.17 317.10h6.4m-3.2 -3.1v6.2m-2.6 -5.9l5.2 5.6m-5.2 0l5.2 -5.6M91.05 313.91h6.4m-3.2 -3.1v6.2m-2.6 -5.9l5.2 5.6m-5.2 0l5.2 -5.6M102.92 314.55h6.4m-3.2 -3.1v6.2m-2.6 -5.9l5.2 5.6m-5.2 0l5.2 -5.6M114.80 314.55h6.4m-3.2 -3.1v6.2m-2.6 -5.9l5.2 5.6m-5.2 0l5.2 -5.6M126.67 314.97h6.4m-3.2 -3.1v6.2m-2.6 -5.9l5.2 5.6m-5.2 0l5.2 -5.6M138.55 319.86h6.4m-3.2 -3.1v6.2m-2.6 -5.9l5.2 5.6m-5.2 0l5.2 -5.6M150.43 317.31h6.4m-3.2 -3.1v6.2m-2.6 -5.9l5.2 5.6m-5.2 0l5.2 -5.6M162.30 298.61h6.4m-3.2 -3.1v6.2m-2.6 -5.9l5.2 5.6m-5.2 0l5.2 -5.6M174.18 293.30h6.4m-3.2 -3.1v6.2m-2.6 -5.9l5.2 5.6m-5.2 0l5.2 -5.6M186.05 292.88h6.4m-3.2 -3.1v6.2m-2.6 -5.9l5.2 5.6m-5.2 0l5.2 -5.6M197.93 287.57h6.4m-3.2 -3.1v6.2m-2.6 -5.9l5.2 5.6m-5.2 0l5.2 -5.6M209.80 292.88h6.4m-3.2 -3.1v6.2m-2.6 -5.9l5.2 5.6m-5.2 0l5.2 -5.6M221.68 298.61h6.4m-3.2 -3.1v6.2m-2.6 -5.9l5.2 5.6m-5.2 0l5.2 -5.6M233.55 309.24h6.4m-3.2 -3.1v6.2m-2.6 -5.9l5.2 5.6m-5.2 0l5.2 -5.6M245.43 316.67h6.4m-3.2 -3.1v6.2m-2.6 -5.9l5.2 5.6m-5.2 0l5.2 -5.6M257.30 319.44h6.4m-3.2 -3.1v6.2m-2.6 -5.9l5.2 5.6m-5.2 0l5.2 -5.6M269.18 319.01h6.4m-3.2 -3.1v6.2m-2.6 -5.9l5.2 5.6m-5.2 0l5.2 -5.6M281.05 311.79h6.4m-3.2 -3.1v6.2m-2.6 -5.9l5.2 5.6m-5.2 0l5.2 -5.6M292.93 316.46h6.4m-3.2 -3.1v6.2m-2.6 -5.9l5.2 5.6m-5.2 0l5.2 -5.6M304.80 313.91h6.4m-3.2 -3.1v6.2m-2.6 -5.9l5.2 5.6m-5.2 0l5.2 -5.6"/>
</g>
<g stroke="#00ff00"><polyline class="ln" points="23.00,314.55 34.88,311.36 46.75,317.31 58.62,300.31 70.50,306.05 82.38,311.79 94.25,317.10 106.12,314.55 118.00,303.50 129.88,311.36 141.75,300.74 153.62,276.94 165.50,279.49 177.38,282.25 189.25,303.50 201.12,303.93 213.00,311.79 224.88,309.24 236.75,319.44 248.62,316.67 260.50,309.24 272.38,309.24 284.25,317.10 296.12,306.05 308.00,309.24"/>
<path class="mk" d="M19.80 314.55h6.4m-3.2 -3.1v6.2m-2.6 -5.9l5.2 5.6m-5.2 0l5.2 -5.6M31.68 311.36h6.4m-3.2 -3.1v6.2m-2.6 -5.9l5.2 5.6m-5.2 0l5.2 -5.6M43.55 317.31h6.4m-3.2 -3.1v6.2m-2.6 -5.9l5.2 5.6m-5.2 0l5.2 -5.6M55.42 300.31h6.4m-3.2 -3.1v6.2m-2.6 -5.9l5.2 5.6m-5.2 0l5.2 -5.6M67.30 306.05h6.4m-3.2 -3.1v6.2m-2.6 -5.9l5.2 5.6m-5.2 0l5.2 -5.6M79.17 311.79h6.4m-3.2 -3.1v6.2m-2.6 -5.9l5.2 5.6m-5.2 0l5.2 -5.6M91.05 317.10h6.4m-3.2 -3.1v6.2m-2.6 -5.9l5.2 5.6m-5.2 0l5.2 -5.6M102.92 314.55h6.4m-3.2 -3.1v6.2m-2.6 -5.9l5.2 5.6m-5.2 0l5.2 -5.6M114.80 303.50h6.4m-3.2 -3.1v6.2m-2.6 -5.9l5.2 5.6m-5.2 0l5.2 -5.6M126.67 311.36h6.4m-3.2 -3.1v6.2m-2.6 -5.9l5.2 5.6m-5.2 0l5.2 -5.6M138.55 300.74h6.4m-3.2 -3.1v6.2m-2.6 -5.9l5.2 5.6m-5.2 0l5.2 -5.6M150.43 276.94h6.4m-3.2 -3.1v6.2m-2.6 -5.9l5.2 5.6m-5.2 0l5.2 -5.6M162.30 279.49h6.4m-3.2 -3.1v6.2m-2.6 -5.9l5.2 5.6m-5.2 0l5.2 -5.6M174.18 282.25h6.4m-3.2 -3.1v6.2m-2.6 -5.9l5.2 5.6m-5.2 0l5.2 -5.6M186.05 303.50h6.4m-3.2 -3.1v6.2m-2.6 -5.9l5.2 5.6m-5.2 0l5.2 -5.6M197.93 303.93h6.4m-3.2 -3.1v6.2m-2.6 -5.9l5.2 5.6m-5.2 0l5.2 -5.6M209.80 311.79h6.4m-3.2 -3.1v6.2m-2.6 -5.9l5.2 5.6m-5.2 0l5.2 -5.6M221.68 309.24h6.4m-3.2 -3.1v6.2m-2.6 -5.9l5.2 5.6m-5.2 0l5.2 -5.6M233.55 319.44h6.4m-3.2 -3.1v6.2m-2.6 -5.9l5.2 5.6m-5.2 0l5.2 -5.6M245.43 316.67h6.4m-3.2 -3.1v6.2m-2.6 -5.9l5.2 5.6m-5.2 0l5.2 -5.6M257.30 309.24h6.4m-3.2 -3.1v6.2m-2.6 -5.9l5.2 5.6m-5.2 0l5.2 -5.6M269.18 309.24h6.4m-3.2 -3.1v6.2m-2.6 -5.9l5.2 5.6m-5.2 0l5.2 -5.6M281.05 317.10h6.4m-3.2 -3.1v6.2m-2.6 -5.9l5.2 5.6m-5.2 0l5.2 -5.6M292.93 306.05h6.4m-3.2 -3.1v6.2m-2.6 -5.9l5.2 5.6m-5.2 0l5.2 -5.6M304.80 309.24h6.4m-3.2 -3.1v6.2m-2.6 -5.9l5.2 5.6m-5.2 0l5.2 -5.6"/>
</g>
<g stroke="#0404ff"><polyline class="ln" points="23.00,310.30 34.88,298.61 46.75,309.24 58.62,309.24 70.50,306.05 82.38,295.00 94.25,271.42 106.12,293.30 118.00,274.82 129.88,279.49 141.75,269.29 153.62,274.82 165.50,269.51 177.38,282.25 189.25,269.29 201.12,258.25 213.00,245.07 224.88,245.07 236.75,263.56 248.62,269.29 260.50,274.82 272.38,255.70 284.25,266.32 296.12,285.02 308.00,290.12"/>
<path class="mk" d="M19.80 310.30h6.4m-3.2 -3.1v6.2m-2.6 -5.9l5.2 5.6m-5.2 0l5.2 -5.6M31.68 298.61h6.4m-3.2 -3.1v6.2m-2.6 -5.9l5.2 5.6m-5.2 0l5.2 -5.6M43.55 309.24h6.4m-3.2 -3.1v6.2m-2.6 -5.9l5.2 5.6m-5.2 0l5.2 -5.6M55.42 309.24h6.4m-3.2 -3.1v6.2m-2.6 -5.9l5.2 5.6m-5.2 0l5.2 -5.6M67.30 306.05h6.4m-3.2 -3.1v6.2m-2.6 -5.9l5.2 5.6m-5.2 0l5.2 -5.6M79.17 295.00h6.4m-3.2 -3.1v6.2m-2.6 -5.9l5.2 5.6m-5.2 0l5.2 -5.6M91.05 271.42h6.4m-3.2 -3.1v6.2m-2.6 -5.9l5.2 5.6m-5.2 0l5.2 -5.6M102.92 293.30h6.4m-3.2 -3.1v6.2m-2.6 -5.9l5.2 5.6m-5.2 0l5.2 -5.6M114.80 274.82h6.4m-3.2 -3.1v6.2m-2.6 -5.9l5.2 5.6m-5.2 0l5.2 -5.6M126.67 279.49h6.4m-3.2 -3.1v6.2m-2.6 -5.9l5.2 5.6m-5.2 0l5.2 -5.6M138.55 269.29h6.4m-3.2 -3.1v6.2m-2.6 -5.9l5.2 5.6m-5.2 0l5.2 -5.6M150.43 274.82h6.4m-3.2 -3.1v6.2m-2.6 -5.9l5.2 5.6m-5.2 0l5.2 -5.6M162.30 269.51h6.4m-3.2 -3.1v6.2m-2.6 -5.9l5.2 5.6m-5.2 0l5.2 -5.6M174.18 282.25h6.4m-3.2 -3.1v6.2m-2.6 -5.9l5.2 5.6m-5.2 0l5.2 -5.6M186.05 269.29h6.4m-3.2 -3.1v6.2m-2.6 -5.9l5.2 5.6m-5.2 0l5.2 -5.6M197.93 258.25h6.4m-3.2 -3.1v6.2m-2.6 -5.9l5.2 5.6m-5.2 0l5.2 -5.6M209.80 245.07h6.4m-3.2 -3.1v6.2m-2.6 -5.9l5.2 5.6m-5.2 0l5.2 -5.6M221.68 245.07h6.4m-3.2 -3.1v6.2m-2.6 -5.9l5.2 5.6m-5.2 0l5.2 -5.6M233.55 263.56h6.4m-3.2 -3.1v6.2m-2.6 -5.9l5.2 5.6m-5.2 0l5.2 -5.6M245.43 269.29h6.4m-3.2 -3.1v6.2m-2.6 -5.9l5.2 5.6m-5.2 0l5.2 -5.6M257.30 274.82h6.4m-3.2 -3.1v6.2m-2.6 -5.9l5.2 5.6m-5.2 0l5.2 -5.6M269.18 255.70h6.4m-3.2 -3.1v6.2m-2.6 -5.9l5.2 5.6m-5.2 0l5.2 -5.6M281.05 266.32h6.4m-3.2 -3.1v6.2m-2.6 -5.9l5.2 5.6m-5.2 0l5.2 -5.6M292.93 285.02h6.4m-3.2 -3.1v6.2m-2.6 -5.9l5.2 5.6m-5.2 0l5.2 -5.6M304.80 290.12h6.4m-3.2 -3.1v6.2m-2.6 -5.9l5.2 5.6m-5.2 0l5.2 -5.6"/>
</g>
<g stroke="#ff0000"><polyline class="ln" points="23.00,290.12 34.88,300.74 46.75,292.88 58.62,309.24 70.50,309.24 82.38,306.05 94.25,300.31 106.12,295.00 118.00,300.74 129.88,311.36 141.75,317.31 153.62,317.31 165.50,319.44 177.38,311.36 189.25,303.50 201.12,309.24 213.00,300.74 224.88,300.74 236.75,308.81 248.62,314.12 260.50,311.36 272.38,311.36 284.25,317.31 296.12,314.55 308.00,314.55"/>
<path class="mk" d="M19.80 290.12h6.4m-3.2 -3.1v6.2m-2.6 -5.9l5.2 5.6m-5.2 0l5.2 -5.6M31.68 300.74h6.4m-3.2 -3.1v6.2m-2.6 -5.9l5.2 5.6m-5.2 0l5.2 -5.6M43.55 292.88h6.4m-3.2 -3.1v6.2m-2.6 -5.9l5.2 5.6m-5.2 0l5.2 -5.6M55.42 309.24h6.4m-3.2 -3.1v6.2m-2.6 -5.9l5.2 5.6m-5.2 0l5.2 -5.6M67.30 309.24h6.4m-3.2 -3.1v6.2m-2.6 -5.9l5.2 5.6m-5.2 0l5.2 -5.6M79.17 306.05h6.4m-3.2 -3.1v6.2m-2.6 -5.9l5.2 5.6m-5.2 0l5.2 -5.6M91.05 300.31h6.4m-3.2 -3.1v6.2m-2.6 -5.9l5.2 5.6m-5.2 0l5.2 -5.6M102.92 295.00h6.4m-3.2 -3.1v6.2m-2.6 -5.9l5.2 5.6m-5.2 0l5.2 -5.6M114.80 300.74h6.4m-3.2 -3.1v6.2m-2.6 -5.9l5.2 5.6m-5.2 0l5.2 -5.6M126.67 311.36h6.4m-3.2 -3.1v6.2m-2.6 -5.9l5.2 5.6m-5.2 0l5.2 -5.6M138.55 317.31h6.4m-3.2 -3.1v6.2m-2.6 -5.9l5.2 5.6m-5.2 0l5.2 -5.6M150.43 317.31h6.4m-3.2 -3.1v6.2m-2.6 -5.9l5.2 5.6m-5.2 0l5.2 -5.6M162.30 319.44h6.4m-3.2 -3.1v6.2m-2.6 -5.9l5.2 5.6m-5.2 0l5.2 -5.6M174.18 311.36h6.4m-3.2 -3.1v6.2m-2.6 -5.9l5.2 5.6m-5.2 0l5.2 -5.6M186.05 303.50h6.4m-3.2 -3.1v6.2m-2.6 -5.9l5.2 5.6m-5.2 0l5.2 -5.6M197.93 309.24h6.4m-3.2 -3.1v6.2m-2.6 -5.9l5.2 5.6m-5.2 0l5.2 -5.6M209.80 300.74h6.4m-3.2 -3.1v6.2m-2.6 -5.9l5.2 5.6m-5.2 0l5.2 -5.6M221.68 300.74h6.4m-3.2 -3.1v6.2m-2.6 -5.9l5.2 5.6m-5.2 0l5.2 -5.6M233.55 308.81h6.4m-3.2 -3.1v6.2m-2.6 -5.9l5.2 5.6m-5.2 0l5.2 -5.6M245.43 314.12h6.4m-3.2 -3.1v6.2m-2.6 -5.9l5.2 5.6m-5.2 0l5.2 -5.6M257.30 311.36h6.4m-3.2 -3.1v6.2m-2.6 -5.9l5.2 5.6m-5.2 0l5.2 -5.6M269.18 311.36h6.4m-3.2 -3.1v6.2m-2.6 -5.9l5.2 5.6m-5.2 0l5.2 -5.6M281.05 317.31h6.4m-3.2 -3.1v6.2m-2.6 -5.9l5.2 5.6m-5.2 0l5.2 -5.6M292.93 314.55h6.4m-3.2 -3.1v6.2m-2.6 -5.9l5.2 5.6m-5.2 0l5.2 -5.6M304.80 314.55h6.4m-3.2 -3.1v6.2m-2.6 -5.9l5.2 5.6m-5.2 0l5.2 -5.6"/>
</g>
</g>
<path class="grid" d="M23.00 312.00H308.00M23.00 298.00H308.00M23.00 284.00H308.00M23.00 270.00H308.00M23.00 256.00H308.00M70.50 242.00V326.00M118.00 242.00V326.00M165.50 242.00V326.00M213.00 242.00V326.00M260.50 242.00V326.00"/>
<path class="tick" d="M46.75 326.00v-4.3M46.75 242.00v4.3M70.50 326.00v-4.3M70.50 242.00v4.3M94.25 326.00v-4.3M94.25 242.00v4.3M118.00 326.00v-4.3M118.00 242.00v4.3M141.75 326.00v-4.3M141.75 242.00v4.3M165.50 326.00v-4.3M165.50 242.00v4.3M189.25 326.00v-4.3M189.25 242.00v4.3M213.00 326.00v-4.3M213.00 242.00v4.3M236.75 326.00v-4.3M236.75 242.00v4.3M260.50 326.00v-4.3M260.50 242.00v4.3M284.25 326.00v-4.3M284.25 242.00v4.3M23.00 319.00h3.9M308.00 319.00h-3.9M23.00 312.00h5.5M308.00 312.00h-5.5M23.00 305.00h3.9M308.00 305.00h-3.9M23.00 298.00h5.5M308.00 298.00h-5.5M23.00 291.00h3.9M308.00 291.00h-3.9M23.00 284.00h5.5M308.00 284.00h-5.5M23.00 277.00h3.9M308.00 277.00h-3.9M23.00 270.00h5.5M308.00 270.00h-5.5M23.00 263.00h3.9M308.00 263.00h-3.9M23.00 256.00h5.5M308.00 256.00h-5.5M23.00 249.00h3.9M308.00 249.00h-3.9"/>
<rect class="frame" x="23.00" y="242.00" width="285.00" height="84.00"/>
<text class="yl ys" x="18.00" y="328.90" textLength="11.9" lengthAdjust="spacingAndGlyphs">1.4</text>
<text class="yl ys" x="18.00" y="314.90" textLength="11.9" lengthAdjust="spacingAndGlyphs">1.6</text>
<text class="yl ys" x="18.00" y="300.90" textLength="11.9" lengthAdjust="spacingAndGlyphs">1.8</text>
<text class="yl ys" x="18.00" y="286.90" textLength="11.9" lengthAdjust="spacingAndGlyphs">2.0</text>
<text class="yl ys" x="18.00" y="272.90" textLength="11.9" lengthAdjust="spacingAndGlyphs">2.2</text>
<text class="yl ys" x="18.00" y="258.90" textLength="11.9" lengthAdjust="spacingAndGlyphs">2.4</text>
<text class="yl ys" x="18.00" y="244.90" textLength="11.9" lengthAdjust="spacingAndGlyphs">2.6</text>
<text class="xl" x="23.00" y="336.50">0</text>
<text class="xl" x="70.50" y="336.50">4</text>
<text class="xl" x="118.00" y="336.50">8</text>
<text class="xl" x="165.50" y="336.50">12</text>
<text class="xl" x="213.00" y="336.50">16</text>
<text class="xl" x="260.50" y="336.50">20</text>
<text class="xl" x="308.00" y="336.50">24</text>
<text class="pt" y="238.75"><tspan x="266.90" textLength="16.00" lengthAdjust="spacingAndGlyphs">SO2</tspan> <tspan x="286.50" textLength="22.70" lengthAdjust="spacingAndGlyphs">(ppb)</tspan></text>
</g>
<g class="panel">
<g clip-path="url(#cp6)">
<g stroke="#00ffff"><polyline class="ln" points="348.00,268.23 359.88,271.63 371.75,274.82 383.62,276.31 395.50,276.31 407.38,280.56 419.25,278.43 431.12,280.13 443.00,284.17 454.88,286.29 466.75,284.17 478.62,281.62 490.50,269.51 502.38,261.43 514.25,257.18 526.12,255.70 538.00,257.18 549.88,259.31 561.75,258.88 573.62,264.62 585.50,274.82 597.38,275.24 609.25,272.69 621.12,271.42 633.00,270.99"/>
<path class="mk" d="M344.80 268.23h6.4m-3.2 -3.1v6.2m-2.6 -5.9l5.2 5.6m-5.2 0l5.2 -5.6M356.68 271.63h6.4m-3.2 -3.1v6.2m-2.6 -5.9l5.2 5.6m-5.2 0l5.2 -5.6M368.55 274.82h6.4m-3.2 -3.1v6.2m-2.6 -5.9l5.2 5.6m-5.2 0l5.2 -5.6M380.43 276.31h6.4m-3.2 -3.1v6.2m-2.6 -5.9l5.2 5.6m-5.2 0l5.2 -5.6M392.30 276.31h6.4m-3.2 -3.1v6.2m-2.6 -5.9l5.2 5.6m-5.2 0l5.2 -5.6M404.18 280.56h6.4m-3.2 -3.1v6.2m-2.6 -5.9l5.2 5.6m-5.2 0l5.2 -5.6M416.05 278.43h6.4m-3.2 -3.1v6.2m-2.6 -5.9l5.2 5.6m-5.2 0l5.2 -5.6M427.93 280.13h6.4m-3.2 -3.1v6.2m-2.6 -5.9l5.2 5.6m-5.2 0l5.2 -5.6M439.80 284.17h6.4m-3.2 -3.1v6.2m-2.6 -5.9l5.2 5.6m-5.2 0l5.2 -5.6M451.68 286.29h6.4m-3.2 -3.1v6.2m-2.6 -5.9l5.2 5.6m-5.2 0l5.2 -5.6M463.55 284.17h6.4m-3.2 -3.1v6.2m-2.6 -5.9l5.2 5.6m-5.2 0l5.2 -5.6M475.43 281.62h6.4m-3.2 -3.1v6.2m-2.6 -5.9l5.2 5.6m-5.2 0l5.2 -5.6M487.30 269.51h6.4m-3.2 -3.1v6.2m-2.6 -5.9l5.2 5.6m-5.2 0l5.2 -5.6M499.18 261.43h6.4m-3.2 -3.1v6.2m-2.6 -5.9l5.2 5.6m-5.2 0l5.2 -5.6M511.05 257.18h6.4m-3.2 -3.1v6.2m-2.6 -5.9l5.2 5.6m-5.2 0l5.2 -5.6M522.92 255.70h6.4m-3.2 -3.1v6.2m-2.6 -5.9l5.2 5.6m-5.2 0l5.2 -5.6M534.80 257.18h6.4m-3.2 -3.1v6.2m-2.6 -5.9l5.2 5.6m-5.2 0l5.2 -5.6M546.67 259.31h6.4m-3.2 -3.1v6.2m-2.6 -5.9l5.2 5.6m-5.2 0l5.2 -5.6M558.55 258.88h6.4m-3.2 -3.1v6.2m-2.6 -5.9l5.2 5.6m-5.2 0l5.2 -5.6M570.42 264.62h6.4m-3.2 -3.1v6.2m-2.6 -5.9l5.2 5.6m-5.2 0l5.2 -5.6M582.30 274.82h6.4m-3.2 -3.1v6.2m-2.6 -5.9l5.2 5.6m-5.2 0l5.2 -5.6M594.17 275.24h6.4m-3.2 -3.1v6.2m-2.6 -5.9l5.2 5.6m-5.2 0l5.2 -5.6M606.05 272.69h6.4m-3.2 -3.1v6.2m-2.6 -5.9l5.2 5.6m-5.2 0l5.2 -5.6M617.92 271.42h6.4m-3.2 -3.1v6.2m-2.6 -5.9l5.2 5.6m-5.2 0l5.2 -5.6M629.80 270.99h6.4m-3.2 -3.1v6.2m-2.6 -5.9l5.2 5.6m-5.2 0l5.2 -5.6"/>
</g>
<g stroke="#00ff00"><polyline class="ln" points="348.00,270.99 359.88,273.54 371.75,275.24 383.62,276.73 395.50,278.43 407.38,281.19 419.25,281.62 431.12,285.44 443.00,286.29 454.88,286.29 466.75,284.17 478.62,282.04 490.50,283.32 502.38,281.19 514.25,276.31 526.12,270.99 538.00,272.69 549.88,273.54 561.75,278.86 573.62,278.86 585.50,279.49 597.38,300.10 609.25,287.99 621.12,289.48 633.00,300.10"/>
<path class="mk" d="M344.80 270.99h6.4m-3.2 -3.1v6.2m-2.6 -5.9l5.2 5.6m-5.2 0l5.2 -5.6M356.68 273.54h6.4m-3.2 -3.1v6.2m-2.6 -5.9l5.2 5.6m-5.2 0l5.2 -5.6M368.55 275.24h6.4m-3.2 -3.1v6.2m-2.6 -5.9l5.2 5.6m-5.2 0l5.2 -5.6M380.43 276.73h6.4m-3.2 -3.1v6.2m-2.6 -5.9l5.2 5.6m-5.2 0l5.2 -5.6M392.30 278.43h6.4m-3.2 -3.1v6.2m-2.6 -5.9l5.2 5.6m-5.2 0l5.2 -5.6M404.18 281.19h6.4m-3.2 -3.1v6.2m-2.6 -5.9l5.2 5.6m-5.2 0l5.2 -5.6M416.05 281.62h6.4m-3.2 -3.1v6.2m-2.6 -5.9l5.2 5.6m-5.2 0l5.2 -5.6M427.93 285.44h6.4m-3.2 -3.1v6.2m-2.6 -5.9l5.2 5.6m-5.2 0l5.2 -5.6M439.80 286.29h6.4m-3.2 -3.1v6.2m-2.6 -5.9l5.2 5.6m-5.2 0l5.2 -5.6M451.68 286.29h6.4m-3.2 -3.1v6.2m-2.6 -5.9l5.2 5.6m-5.2 0l5.2 -5.6M463.55 284.17h6.4m-3.2 -3.1v6.2m-2.6 -5.9l5.2 5.6m-5.2 0l5.2 -5.6M475.43 282.04h6.4m-3.2 -3.1v6.2m-2.6 -5.9l5.2 5.6m-5.2 0l5.2 -5.6M487.30 283.32h6.4m-3.2 -3.1v6.2m-2.6 -5.9l5.2 5.6m-5.2 0l5.2 -5.6M499.18 281.19h6.4m-3.2 -3.1v6.2m-2.6 -5.9l5.2 5.6m-5.2 0l5.2 -5.6M511.05 276.31h6.4m-3.2 -3.1v6.2m-2.6 -5.9l5.2 5.6m-5.2 0l5.2 -5.6M522.92 270.99h6.4m-3.2 -3.1v6.2m-2.6 -5.9l5.2 5.6m-5.2 0l5.2 -5.6M534.80 272.69h6.4m-3.2 -3.1v6.2m-2.6 -5.9l5.2 5.6m-5.2 0l5.2 -5.6M546.67 273.54h6.4m-3.2 -3.1v6.2m-2.6 -5.9l5.2 5.6m-5.2 0l5.2 -5.6M558.55 278.86h6.4m-3.2 -3.1v6.2m-2.6 -5.9l5.2 5.6m-5.2 0l5.2 -5.6M570.42 278.86h6.4m-3.2 -3.1v6.2m-2.6 -5.9l5.2 5.6m-5.2 0l5.2 -5.6M582.30 279.49h6.4m-3.2 -3.1v6.2m-2.6 -5.9l5.2 5.6m-5.2 0l5.2 -5.6M594.17 300.10h6.4m-3.2 -3.1v6.2m-2.6 -5.9l5.2 5.6m-5.2 0l5.2 -5.6M606.05 287.99h6.4m-3.2 -3.1v6.2m-2.6 -5.9l5.2 5.6m-5.2 0l5.2 -5.6M617.92 289.48h6.4m-3.2 -3.1v6.2m-2.6 -5.9l5.2 5.6m-5.2 0l5.2 -5.6M629.80 300.10h6.4m-3.2 -3.1v6.2m-2.6 -5.9l5.2 5.6m-5.2 0l5.2 -5.6"/>
</g>
<g stroke="#0404ff"><polyline class="ln" points="348.00,299.68 359.88,300.10 371.75,299.25 383.62,306.48 395.50,315.19 407.38,318.80 419.25,320.29 431.12,319.86 443.00,318.80 454.88,310.30 466.75,304.99 478.62,278.43 490.50,268.23 502.38,265.26 514.25,269.29 526.12,260.37 538.00,246.99 549.88,252.93 561.75,258.25 573.62,273.54 585.50,291.18 597.38,278.43 609.25,303.93 621.12,306.48 633.00,311.79"/>
<path class="mk" d="M344.80 299.68h6.4m-3.2 -3.1v6.2m-2.6 -5.9l5.2 5.6m-5.2 0l5.2 -5.6M356.68 300.10h6.4m-3.2 -3.1v6.2m-2.6 -5.9l5.2 5.6m-5.2 0l5.2 -5.6M368.55 299.25h6.4m-3.2 -3.1v6.2m-2.6 -5.9l5.2 5.6m-5.2 0l5.2 -5.6M380.43 306.48h6.4m-3.2 -3.1v6.2m-2.6 -5.9l5.2 5.6m-5.2 0l5.2 -5.6M392.30 315.19h6.4m-3.2 -3.1v6.2m-2.6 -5.9l5.2 5.6m-5.2 0l5.2 -5.6M404.18 318.80h6.4m-3.2 -3.1v6.2m-2.6 -5.9l5.2 5.6m-5.2 0l5.2 -5.6M416.05 320.29h6.4m-3.2 -3.1v6.2m-2.6 -5.9l5.2 5.6m-5.2 0l5.2 -5.6M427.93 319.86h6.4m-3.2 -3.1v6.2m-2.6 -5.9l5.2 5.6m-5.2 0l5.2 -5.6M439.80 318.80h6.4m-3.2 -3.1v6.2m-2.6 -5.9l5.2 5.6m-5.2 0l5.2 -5.6M451.68 310.30h6.4m-3.2 -3.1v6.2m-2.6 -5.9l5.2 5.6m-5.2 0l5.2 -5.6M463.55 304.99h6.4m-3.2 -3.1v6.2m-2.6 -5.9l5.2 5.6m-5.2 0l5.2 -5.6M475.43 278.43h6.4m-3.2 -3.1v6.2m-2.6 -5.9l5.2 5.6m-5.2 0l5.2 -5.6M487.30 268.23h6.4m-3.2 -3.1v6.2m-2.6 -5.9l5.2 5.6m-5.2 0l5.2 -5.6M499.18 265.26h6.4m-3.2 -3.1v6.2m-2.6 -5.9l5.2 5.6m-5.2 0l5.2 -5.6M511.05 269.29h6.4m-3.2 -3.1v6.2m-2.6 -5.9l5.2 5.6m-5.2 0l5.2 -5.6M522.92 260.37h6.4m-3.2 -3.1v6.2m-2.6 -5.9l5.2 5.6m-5.2 0l5.2 -5.6M534.80 246.99h6.4m-3.2 -3.1v6.2m-2.6 -5.9l5.2 5.6m-5.2 0l5.2 -5.6M546.67 252.93h6.4m-3.2 -3.1v6.2m-2.6 -5.9l5.2 5.6m-5.2 0l5.2 -5.6M558.55 258.25h6.4m-3.2 -3.1v6.2m-2.6 -5.9l5.2 5.6m-5.2 0l5.2 -5.6M570.42 273.54h6.4m-3.2 -3.1v6.2m-2.6 -5.9l5.2 5.6m-5.2 0l5.2 -5.6M582.30 291.18h6.4m-3.2 -3.1v6.2m-2.6 -5.9l5.2 5.6m-5.2 0l5.2 -5.6M594.17 278.43h6.4m-3.2 -3.1v6.2m-2.6 -5.9l5.2 5.6m-5.2 0l5.2 -5.6M606.05 303.93h6.4m-3.2 -3.1v6.2m-2.6 -5.9l5.2 5.6m-5.2 0l5.2 -5.6M617.92 306.48h6.4m-3.2 -3.1v6.2m-2.6 -5.9l5.2 5.6m-5.2 0l5.2 -5.6M629.80 311.79h6.4m-3.2 -3.1v6.2m-2.6 -5.9l5.2 5.6m-5.2 0l5.2 -5.6"/>
</g>
<g stroke="#ff0000"><polyline class="ln" points="348.00,311.79 359.88,310.73 371.75,313.06 383.62,299.25 395.50,299.68 407.38,291.60 419.25,294.37 431.12,302.44 443.00,305.41 454.88,306.69 466.75,309.24 478.62,310.30 490.50,305.41 502.38,292.67 514.25,280.98 526.12,276.73 538.00,275.88 549.88,280.98 561.75,286.29 573.62,287.99 585.50,287.35 597.38,287.99 609.25,286.50 621.12,285.87 633.00,285.44"/>
<path class="mk" d="M344.80 311.79h6.4m-3.2 -3.1v6.2m-2.6 -5.9l5.2 5.6m-5.2 0l5.2 -5.6M356.68 310.73h6.4m-3.2 -3.1v6.2m-2.6 -5.9l5.2 5.6m-5.2 0l5.2 -5.6M368.55 313.06h6.4m-3.2 -3.1v6.2m-2.6 -5.9l5.2 5.6m-5.2 0l5.2 -5.6M380.43 299.25h6.4m-3.2 -3.1v6.2m-2.6 -5.9l5.2 5.6m-5.2 0l5.2 -5.6M392.30 299.68h6.4m-3.2 -3.1v6.2m-2.6 -5.9l5.2 5.6m-5.2 0l5.2 -5.6M404.18 291.60h6.4m-3.2 -3.1v6.2m-2.6 -5.9l5.2 5.6m-5.2 0l5.2 -5.6M416.05 294.37h6.4m-3.2 -3.1v6.2m-2.6 -5.9l5.2 5.6m-5.2 0l5.2 -5.6M427.93 302.44h6.4m-3.2 -3.1v6.2m-2.6 -5.9l5.2 5.6m-5.2 0l5.2 -5.6M439.80 305.41h6.4m-3.2 -3.1v6.2m-2.6 -5.9l5.2 5.6m-5.2 0l5.2 -5.6M451.68 306.69h6.4m-3.2 -3.1v6.2m-2.6 -5.9l5.2 5.6m-5.2 0l5.2 -5.6M463.55 309.24h6.4m-3.2 -3.1v6.2m-2.6 -5.9l5.2 5.6m-5.2 0l5.2 -5.6M475.43 310.30h6.4m-3.2 -3.1v6.2m-2.6 -5.9l5.2 5.6m-5.2 0l5.2 -5.6M487.30 305.41h6.4m-3.2 -3.1v6.2m-2.6 -5.9l5.2 5.6m-5.2 0l5.2 -5.6M499.18 292.67h6.4m-3.2 -3.1v6.2m-2.6 -5.9l5.2 5.6m-5.2 0l5.2 -5.6M511.05 280.98h6.4m-3.2 -3.1v6.2m-2.6 -5.9l5.2 5.6m-5.2 0l5.2 -5.6M522.92 276.73h6.4m-3.2 -3.1v6.2m-2.6 -5.9l5.2 5.6m-5.2 0l5.2 -5.6M534.80 275.88h6.4m-3.2 -3.1v6.2m-2.6 -5.9l5.2 5.6m-5.2 0l5.2 -5.6M546.67 280.98h6.4m-3.2 -3.1v6.2m-2.6 -5.9l5.2 5.6m-5.2 0l5.2 -5.6M558.55 286.29h6.4m-3.2 -3.1v6.2m-2.6 -5.9l5.2 5.6m-5.2 0l5.2 -5.6M570.42 287.99h6.4m-3.2 -3.1v6.2m-2.6 -5.9l5.2 5.6m-5.2 0l5.2 -5.6M582.30 287.35h6.4m-3.2 -3.1v6.2m-2.6 -5.9l5.2 5.6m-5.2 0l5.2 -5.6M594.17 287.99h6.4m-3.2 -3.1v6.2m-2.6 -5.9l5.2 5.6m-5.2 0l5.2 -5.6M606.05 286.50h6.4m-3.2 -3.1v6.2m-2.6 -5.9l5.2 5.6m-5.2 0l5.2 -5.6M617.92 285.87h6.4m-3.2 -3.1v6.2m-2.6 -5.9l5.2 5.6m-5.2 0l5.2 -5.6M629.80 285.44h6.4m-3.2 -3.1v6.2m-2.6 -5.9l5.2 5.6m-5.2 0l5.2 -5.6"/>
</g>
</g>
<path class="grid" d="M348.00 315.50H633.00M348.00 305.00H633.00M348.00 294.50H633.00M348.00 284.00H633.00M348.00 273.50H633.00M348.00 263.00H633.00M348.00 252.50H633.00M395.50 242.00V326.00M443.00 242.00V326.00M490.50 242.00V326.00M538.00 242.00V326.00M585.50 242.00V326.00"/>
<path class="tick" d="M371.75 326.00v-4.3M371.75 242.00v4.3M395.50 326.00v-4.3M395.50 242.00v4.3M419.25 326.00v-4.3M419.25 242.00v4.3M443.00 326.00v-4.3M443.00 242.00v4.3M466.75 326.00v-4.3M466.75 242.00v4.3M490.50 326.00v-4.3M490.50 242.00v4.3M514.25 326.00v-4.3M514.25 242.00v4.3M538.00 326.00v-4.3M538.00 242.00v4.3M561.75 326.00v-4.3M561.75 242.00v4.3M585.50 326.00v-4.3M585.50 242.00v4.3M609.25 326.00v-4.3M609.25 242.00v4.3M348.00 320.75h3.9M633.00 320.75h-3.9M348.00 315.50h5.5M633.00 315.50h-5.5M348.00 310.25h3.9M633.00 310.25h-3.9M348.00 305.00h5.5M633.00 305.00h-5.5M348.00 299.75h3.9M633.00 299.75h-3.9M348.00 294.50h5.5M633.00 294.50h-5.5M348.00 289.25h3.9M633.00 289.25h-3.9M348.00 284.00h5.5M633.00 284.00h-5.5M348.00 278.75h3.9M633.00 278.75h-3.9M348.00 273.50h5.5M633.00 273.50h-5.5M348.00 268.25h3.9M633.00 268.25h-3.9M348.00 263.00h5.5M633.00 263.00h-5.5M348.00 257.75h3.9M633.00 257.75h-3.9M348.00 252.50h5.5M633.00 252.50h-5.5M348.00 247.25h3.9M633.00 247.25h-3.9"/>
<rect class="frame" x="348.00" y="242.00" width="285.00" height="84.00"/>
<text class="yl" x="343.30" y="329.30">0</text>
<text class="yl" x="343.30" y="318.80">10</text>
<text class="yl" x="343.30" y="308.30">20</text>
<text class="yl" x="343.30" y="297.80">30</text>
<text class="yl" x="343.30" y="287.30">40</text>
<text class="yl" x="343.30" y="276.80">50</text>
<text class="yl" x="343.30" y="266.30">60</text>
<text class="yl" x="343.30" y="255.80">70</text>
<text class="yl" x="343.30" y="245.30">80</text>
<text class="xl" x="348.00" y="336.50">0</text>
<text class="xl" x="395.50" y="336.50">4</text>
<text class="xl" x="443.00" y="336.50">8</text>
<text class="xl" x="490.50" y="336.50">12</text>
<text class="xl" x="538.00" y="336.50">16</text>
<text class="xl" x="585.50" y="336.50">20</text>
<text class="xl" x="633.00" y="336.50">24</text>
<text class="pt" y="238.75"><tspan x="597.20" textLength="10.70" lengthAdjust="spacingAndGlyphs">O3</tspan> <tspan x="611.50" textLength="22.70" lengthAdjust="spacingAndGlyphs">(ppb)</tspan></text>
</g>
<g class="panel">
<g clip-path="url(#cp7)">
<g stroke="#00ffff"><polyline class="ln" points="673.00,307.11 684.88,314.97 696.75,321.35 708.62,321.56 720.50,318.80 732.38,316.04 744.25,312.42 756.12,308.18 768.00,303.50 779.88,303.50 791.75,303.50 803.62,303.50 815.50,290.54 827.38,270.99 839.25,273.12 851.12,278.01 863.00,281.62 874.88,278.43 886.75,280.56 898.62,287.99 910.50,293.73 922.38,295.00 934.25,295.43 946.12,295.43 958.00,296.07"/>
<path class="mk" d="M669.80 307.11h6.4m-3.2 -3.1v6.2m-2.6 -5.9l5.2 5.6m-5.2 0l5.2 -5.6M681.67 314.97h6.4m-3.2 -3.1v6.2m-2.6 -5.9l5.2 5.6m-5.2 0l5.2 -5.6M693.55 321.35h6.4m-3.2 -3.1v6.2m-2.6 -5.9l5.2 5.6m-5.2 0l5.2 -5.6M705.42 321.56h6.4m-3.2 -3.1v6.2m-2.6 -5.9l5.2 5.6m-5.2 0l5.2 -5.6M717.30 318.80h6.4m-3.2 -3.1v6.2m-2.6 -5.9l5.2 5.6m-5.2 0l5.2 -5.6M729.17 316.04h6.4m-3.2 -3.1v6.2m-2.6 -5.9l5.2 5.6m-5.2 0l5.2 -5.6M741.05 312.42h6.4m-3.2 -3.1v6.2m-2.6 -5.9l5.2 5.6m-5.2 0l5.2 -5.6M752.92 308.18h6.4m-3.2 -3.1v6.2m-2.6 -5.9l5.2 5.6m-5.2 0l5.2 -5.6M764.80 303.50h6.4m-3.2 -3.1v6.2m-2.6 -5.9l5.2 5.6m-5.2 0l5.2 -5.6M776.67 303.50h6.4m-3.2 -3.1v6.2m-2.6 -5.9l5.2 5.6m-5.2 0l5.2 -5.6M788.55 303.50h6.4m-3.2 -3.1v6.2m-2.6 -5.9l5.2 5.6m-5.2 0l5.2 -5.6M800.42 303.50h6.4m-3.2 -3.1v6.2m-2.6 -5.9l5.2 5.6m-5.2 0l5.2 -5.6M812.30 290.54h6.4m-3.2 -3.1v6.2m-2.6 -5.9l5.2 5.6m-5.2 0l5.2 -5.6M824.17 270.99h6.4m-3.2 -3.1v6.2m-2.6 -5.9l5.2 5.6m-5.2 0l5.2 -5.6M836.05 273.12h6.4m-3.2 -3.1v6.2m-2.6 -5.9l5.2 5.6m-5.2 0l5.2 -5.6M847.92 278.01h6.4m-3.2 -3.1v6.2m-2.6 -5.9l5.2 5.6m-5.2 0l5.2 -5.6M859.80 281.62h6.4m-3.2 -3.1v6.2m-2.6 -5.9l5.2 5.6m-5.2 0l5.2 -5.6M871.67 278.43h6.4m-3.2 -3.1v6.2m-2.6 -5.9l5.2 5.6m-5.2 0l5.2 -5.6M883.55 280.56h6.4m-3.2 -3.1v6.2m-2.6 -5.9l5.2 5.6m-5.2 0l5.2 -5.6M895.42 287.99h6.4m-3.2 -3.1v6.2m-2.6 -5.9l5.2 5.6m-5.2 0l5.2 -5.6M907.30 293.73h6.4m-3.2 -3.1v6.2m-2.6 -5.9l5.2 5.6m-5.2 0l5.2 -5.6M919.17 295.00h6.4m-3.2 -3.1v6.2m-2.6 -5.9l5.2 5.6m-5.2 0l5.2 -5.6M931.05 295.43h6.4m-3.2 -3.1v6.2m-2.6 -5.9l5.2 5.6m-5.2 0l5.2 -5.6M942.92 295.43h6.4m-3.2 -3.1v6.2m-2.6 -5.9l5.2 5.6m-5.2 0l5.2 -5.6M954.80 296.07h6.4m-3.2 -3.1v6.2m-2.6 -5.9l5.2 5.6m-5.2 0l5.2 -5.6"/>
</g>
<g stroke="#00ff00"><polyline class="ln" points="673.00,297.13 684.88,298.61 696.75,299.25 708.62,299.25 720.50,299.04 732.38,300.10 744.25,298.19 756.12,295.43 768.00,292.24 779.88,291.18 791.75,294.37 803.62,294.37 815.50,291.60 827.38,293.30 839.25,293.73 851.12,294.37 863.00,289.48 874.88,286.29 886.75,284.80 898.62,284.80 910.50,285.44 922.38,263.56 934.25,277.37 946.12,279.49 958.00,270.99"/>
<path class="mk" d="M669.80 297.13h6.4m-3.2 -3.1v6.2m-2.6 -5.9l5.2 5.6m-5.2 0l5.2 -5.6M681.67 298.61h6.4m-3.2 -3.1v6.2m-2.6 -5.9l5.2 5.6m-5.2 0l5.2 -5.6M693.55 299.25h6.4m-3.2 -3.1v6.2m-2.6 -5.9l5.2 5.6m-5.2 0l5.2 -5.6M705.42 299.25h6.4m-3.2 -3.1v6.2m-2.6 -5.9l5.2 5.6m-5.2 0l5.2 -5.6M717.30 299.04h6.4m-3.2 -3.1v6.2m-2.6 -5.9l5.2 5.6m-5.2 0l5.2 -5.6M729.17 300.10h6.4m-3.2 -3.1v6.2m-2.6 -5.9l5.2 5.6m-5.2 0l5.2 -5.6M741.05 298.19h6.4m-3.2 -3.1v6.2m-2.6 -5.9l5.2 5.6m-5.2 0l5.2 -5.6M752.92 295.43h6.4m-3.2 -3.1v6.2m-2.6 -5.9l5.2 5.6m-5.2 0l5.2 -5.6M764.80 292.24h6.4m-3.2 -3.1v6.2m-2.6 -5.9l5.2 5.6m-5.2 0l5.2 -5.6M776.67 291.18h6.4m-3.2 -3.1v6.2m-2.6 -5.9l5.2 5.6m-5.2 0l5.2 -5.6M788.55 294.37h6.4m-3.2 -3.1v6.2m-2.6 -5.9l5.2 5.6m-5.2 0l5.2 -5.6M800.42 294.37h6.4m-3.2 -3.1v6.2m-2.6 -5.9l5.2 5.6m-5.2 0l5.2 -5.6M812.30 291.60h6.4m-3.2 -3.1v6.2m-2.6 -5.9l5.2 5.6m-5.2 0l5.2 -5.6M824.17 293.30h6.4m-3.2 -3.1v6.2m-2.6 -5.9l5.2 5.6m-5.2 0l5.2 -5.6M836.05 293.73h6.4m-3.2 -3.1v6.2m-2.6 -5.9l5.2 5.6m-5.2 0l5.2 -5.6M847.92 294.37h6.4m-3.2 -3.1v6.2m-2.6 -5.9l5.2 5.6m-5.2 0l5.2 -5.6M859.80 289.48h6.4m-3.2 -3.1v6.2m-2.6 -5.9l5.2 5.6m-5.2 0l5.2 -5.6M871.67 286.29h6.4m-3.2 -3.1v6.2m-2.6 -5.9l5.2 5.6m-5.2 0l5.2 -5.6M883.55 284.80h6.4m-3.2 -3.1v6.2m-2.6 -5.9l5.2 5.6m-5.2 0l5.2 -5.6M895.42 284.80h6.4m-3.2 -3.1v6.2m-2.6 -5.9l5.2 5.6m-5.2 0l5.2 -5.6M907.30 285.44h6.4m-3.2 -3.1v6.2m-2.6 -5.9l5.2 5.6m-5.2 0l5.2 -5.6M919.17 263.56h6.4m-3.2 -3.1v6.2m-2.6 -5.9l5.2 5.6m-5.2 0l5.2 -5.6M931.05 277.37h6.4m-3.2 -3.1v6.2m-2.6 -5.9l5.2 5.6m-5.2 0l5.2 -5.6M942.92 279.49h6.4m-3.2 -3.1v6.2m-2.6 -5.9l5.2 5.6m-5.2 0l5.2 -5.6M954.80 270.99h6.4m-3.2 -3.1v6.2m-2.6 -5.9l5.2 5.6m-5.2 0l5.2 -5.6"/>
</g>
<g stroke="#0404ff"><polyline class="ln" points="673.00,270.57 684.88,279.49 696.75,286.93 708.62,285.44 720.50,277.37 732.38,278.01 744.25,280.13 756.12,276.31 768.00,259.31 779.88,262.50 791.75,269.51 803.62,289.69 815.50,291.18 827.38,289.48 839.25,289.05 851.12,287.35 863.00,284.17 874.88,283.32 886.75,278.43 898.62,267.38 910.50,255.70 922.38,281.62 934.25,252.93 946.12,252.93 958.00,253.57"/>
<path class="mk" d="M669.80 270.57h6.4m-3.2 -3.1v6.2m-2.6 -5.9l5.2 5.6m-5.2 0l5.2 -5.6M681.67 279.49h6.4m-3.2 -3.1v6.2m-2.6 -5.9l5.2 5.6m-5.2 0l5.2 -5.6M693.55 286.93h6.4m-3.2 -3.1v6.2m-2.6 -5.9l5.2 5.6m-5.2 0l5.2 -5.6M705.42 285.44h6.4m-3.2 -3.1v6.2m-2.6 -5.9l5.2 5.6m-5.2 0l5.2 -5.6M717.30 277.37h6.4m-3.2 -3.1v6.2m-2.6 -5.9l5.2 5.6m-5.2 0l5.2 -5.6M729.17 278.01h6.4m-3.2 -3.1v6.2m-2.6 -5.9l5.2 5.6m-5.2 0l5.2 -5.6M741.05 280.13h6.4m-3.2 -3.1v6.2m-2.6 -5.9l5.2 5.6m-5.2 0l5.2 -5.6M752.92 276.31h6.4m-3.2 -3.1v6.2m-2.6 -5.9l5.2 5.6m-5.2 0l5.2 -5.6M764.80 259.31h6.4m-3.2 -3.1v6.2m-2.6 -5.9l5.2 5.6m-5.2 0l5.2 -5.6M776.67 262.50h6.4m-3.2 -3.1v6.2m-2.6 -5.9l5.2 5.6m-5.2 0l5.2 -5.6M788.55 269.51h6.4m-3.2 -3.1v6.2m-2.6 -5.9l5.2 5.6m-5.2 0l5.2 -5.6M800.42 289.69h6.4m-3.2 -3.1v6.2m-2.6 -5.9l5.2 5.6m-5.2 0l5.2 -5.6M812.30 291.18h6.4m-3.2 -3.1v6.2m-2.6 -5.9l5.2 5.6m-5.2 0l5.2 -5.6M824.17 289.48h6.4m-3.2 -3.1v6.2m-2.6 -5.9l5.2 5.6m-5.2 0l5.2 -5.6M836.05 289.05h6.4m-3.2 -3.1v6.2m-2.6 -5.9l5.2 5.6m-5.2 0l5.2 -5.6M847.92 287.35h6.4m-3.2 -3.1v6.2m-2.6 -5.9l5.2 5.6m-5.2 0l5.2 -5.6M859.80 284.17h6.4m-3.2 -3.1v6.2m-2.6 -5.9l5.2 5.6m-5.2 0l5.2 -5.6M871.67 283.32h6.4m-3.2 -3.1v6.2m-2.6 -5.9l5.2 5.6m-5.2 0l5.2 -5.6M883.55 278.43h6.4m-3.2 -3.1v6.2m-2.6 -5.9l5.2 5.6m-5.2 0l5.2 -5.6M895.42 267.38h6.4m-3.2 -3.1v6.2m-2.6 -5.9l5.2 5.6m-5.2 0l5.2 -5.6M907.30 255.70h6.4m-3.2 -3.1v6.2m-2.6 -5.9l5.2 5.6m-5.2 0l5.2 -5.6M919.17 281.62h6.4m-3.2 -3.1v6.2m-2.6 -5.9l5.2 5.6m-5.2 0l5.2 -5.6M931.05 252.93h6.4m-3.2 -3.1v6.2m-2.6 -5.9l5.2 5.6m-5.2 0l5.2 -5.6M942.92 252.93h6.4m-3.2 -3.1v6.2m-2.6 -5.9l5.2 5.6m-5.2 0l5.2 -5.6M954.80 253.57h6.4m-3.2 -3.1v6.2m-2.6 -5.9l5.2 5.6m-5.2 0l5.2 -5.6"/>
</g>
<g stroke="#ff0000"><polyline class="ln" points="673.00,253.57 684.88,259.31 696.75,259.95 708.62,283.32 720.50,283.74 732.38,288.63 744.25,280.13 756.12,256.76 768.00,252.30 779.88,252.30 791.75,251.45 803.62,251.45 815.50,255.06 827.38,259.31 839.25,263.56 851.12,265.26 863.00,270.36 874.88,271.42 886.75,276.73 898.62,277.79 910.50,277.79 922.38,276.31 934.25,277.79 946.12,281.19 958.00,282.25"/>
<path class="mk" d="M669.80 253.57h6.4m-3.2 -3.1v6.2m-2.6 -5.9l5.2 5.6m-5.2 0l5.2 -5.6M681.67 259.31h6.4m-3.2 -3.1v6.2m-2.6 -5.9l5.2 5.6m-5.2 0l5.2 -5.6M693.55 259.95h6.4m-3.2 -3.1v6.2m-2.6 -5.9l5.2 5.6m-5.2 0l5.2 -5.6M705.42 283.32h6.4m-3.2 -3.1v6.2m-2.6 -5.9l5.2 5.6m-5.2 0l5.2 -5.6M717.30 283.74h6.4m-3.2 -3.1v6.2m-2.6 -5.9l5.2 5.6m-5.2 0l5.2 -5.6M729.17 288.63h6.4m-3.2 -3.1v6.2m-2.6 -5.9l5.2 5.6m-5.2 0l5.2 -5.6M741.05 280.13h6.4m-3.2 -3.1v6.2m-2.6 -5.9l5.2 5.6m-5.2 0l5.2 -5.6M752.92 256.76h6.4m-3.2 -3.1v6.2m-2.6 -5.9l5.2 5.6m-5.2 0l5.2 -5.6M764.80 252.30h6.4m-3.2 -3.1v6.2m-2.6 -5.9l5.2 5.6m-5.2 0l5.2 -5.6M776.67 252.30h6.4m-3.2 -3.1v6.2m-2.6 -5.9l5.2 5.6m-5.2 0l5.2 -5.6M788.55 251.45h6.4m-3.2 -3.1v6.2m-2.6 -5.9l5.2 5.6m-5.2 0l5.2 -5.6M800.42 251.45h6.4m-3.2 -3.1v6.2m-2.6 -5.9l5.2 5.6m-5.2 0l5.2 -5.6M812.30 255.06h6.4m-3.2 -3.1v6.2m-2.6 -5.9l5.2 5.6m-5.2 0l5.2 -5.6M824.17 259.31h6.4m-3.2 -3.1v6.2m-2.6 -5.9l5.2 5.6m-5.2 0l5.2 -5.6M836.05 263.56h6.4m-3.2 -3.1v6.2m-2.6 -5.9l5.2 5.6m-5.2 0l5.2 -5.6M847.92 265.26h6.4m-3.2 -3.1v6.2m-2.6 -5.9l5.2 5.6m-5.2 0l5.2 -5.6M859.80 270.36h6.4m-3.2 -3.1v6.2m-2.6 -5.9l5.2 5.6m-5.2 0l5.2 -5.6M871.67 271.42h6.4m-3.2 -3.1v6.2m-2.6 -5.9l5.2 5.6m-5.2 0l5.2 -5.6M883.55 276.73h6.4m-3.2 -3.1v6.2m-2.6 -5.9l5.2 5.6m-5.2 0l5.2 -5.6M895.42 277.79h6.4m-3.2 -3.1v6.2m-2.6 -5.9l5.2 5.6m-5.2 0l5.2 -5.6M907.30 277.79h6.4m-3.2 -3.1v6.2m-2.6 -5.9l5.2 5.6m-5.2 0l5.2 -5.6M919.17 276.31h6.4m-3.2 -3.1v6.2m-2.6 -5.9l5.2 5.6m-5.2 0l5.2 -5.6M931.05 277.79h6.4m-3.2 -3.1v6.2m-2.6 -5.9l5.2 5.6m-5.2 0l5.2 -5.6M942.92 281.19h6.4m-3.2 -3.1v6.2m-2.6 -5.9l5.2 5.6m-5.2 0l5.2 -5.6M954.80 282.25h6.4m-3.2 -3.1v6.2m-2.6 -5.9l5.2 5.6m-5.2 0l5.2 -5.6"/>
</g>
</g>
<path class="grid" d="M673.00 312.00H958.00M673.00 298.00H958.00M673.00 284.00H958.00M673.00 270.00H958.00M673.00 256.00H958.00M720.50 242.00V326.00M768.00 242.00V326.00M815.50 242.00V326.00M863.00 242.00V326.00M910.50 242.00V326.00"/>
<path class="tick" d="M696.75 326.00v-4.3M696.75 242.00v4.3M720.50 326.00v-4.3M720.50 242.00v4.3M744.25 326.00v-4.3M744.25 242.00v4.3M768.00 326.00v-4.3M768.00 242.00v4.3M791.75 326.00v-4.3M791.75 242.00v4.3M815.50 326.00v-4.3M815.50 242.00v4.3M839.25 326.00v-4.3M839.25 242.00v4.3M863.00 326.00v-4.3M863.00 242.00v4.3M886.75 326.00v-4.3M886.75 242.00v4.3M910.50 326.00v-4.3M910.50 242.00v4.3M934.25 326.00v-4.3M934.25 242.00v4.3M673.00 319.00h3.9M958.00 319.00h-3.9M673.00 312.00h5.5M958.00 312.00h-5.5M673.00 305.00h3.9M958.00 305.00h-3.9M673.00 298.00h5.5M958.00 298.00h-5.5M673.00 291.00h3.9M958.00 291.00h-3.9M673.00 284.00h5.5M958.00 284.00h-5.5M673.00 277.00h3.9M958.00 277.00h-3.9M673.00 270.00h5.5M958.00 270.00h-5.5M673.00 263.00h3.9M958.00 263.00h-3.9M673.00 256.00h5.5M958.00 256.00h-5.5M673.00 249.00h3.9M958.00 249.00h-3.9"/>
<rect class="frame" x="673.00" y="242.00" width="285.00" height="84.00"/>
<text class="yl" x="668.30" y="329.30">0.0</text>
<text class="yl" x="668.30" y="315.30">0.1</text>
<text class="yl" x="668.30" y="301.30">0.2</text>
<text class="yl" x="668.30" y="287.30">0.3</text>
<text class="yl" x="668.30" y="273.30">0.4</text>
<text class="yl" x="668.30" y="259.30">0.5</text>
<text class="yl" x="668.30" y="245.30">0.6</text>
<text class="xl" x="673.00" y="336.50">0</text>
<text class="xl" x="720.50" y="336.50">4</text>
<text class="xl" x="768.00" y="336.50">8</text>
<text class="xl" x="815.50" y="336.50">12</text>
<text class="xl" x="863.00" y="336.50">16</text>
<text class="xl" x="910.50" y="336.50">20</text>
<text class="xl" x="958.00" y="336.50">24</text>
<text class="pt" y="238.75"><tspan x="918.50" textLength="10.30" lengthAdjust="spacingAndGlyphs">CO</tspan> <tspan x="932.80" textLength="26.40" lengthAdjust="spacingAndGlyphs">(ppm)</tspan></text>
</g>
</svg>
</body></html>
